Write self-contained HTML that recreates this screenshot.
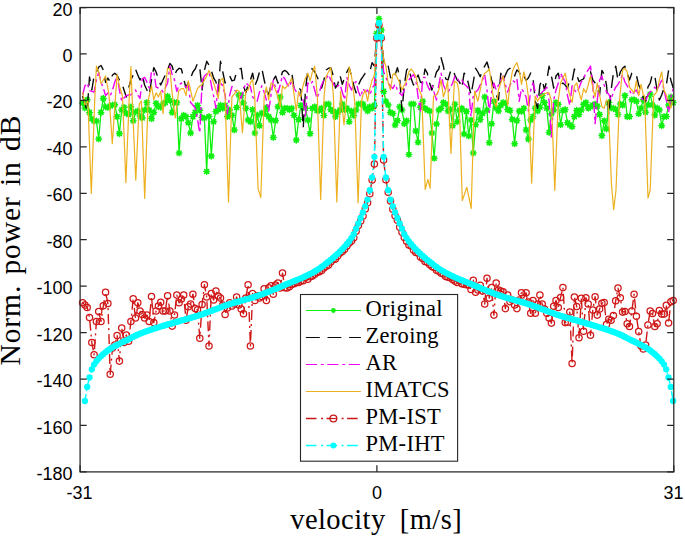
<!DOCTYPE html>
<html><head><meta charset="utf-8"><style>
html,body{margin:0;padding:0;background:#fff;width:685px;height:536px;overflow:hidden}
svg{display:block}
</style></head><body>
<svg width="685" height="536" viewBox="0 0 685 536"><rect x="0" y="0" width="685" height="536" fill="#fff"/><g fill="none" stroke-linejoin="round"><polyline points="82.6,103.3 84.9,108.0 87.2,99.8 89.5,112.4 91.8,118.7 94.1,121.0 96.4,121.0 98.7,139.0 101.0,112.4 103.3,98.4 105.6,107.0 107.9,107.5 110.2,106.0 112.5,105.0 114.8,104.7 117.1,116.6 119.4,133.6 121.7,110.0 124.0,107.3 126.3,113.1 128.6,114.5 130.9,106.8 133.2,120.8 135.5,112.0 137.8,111.0 140.0,116.0 142.3,118.0 144.6,110.0 146.9,102.6 149.2,110.0 151.5,118.6 153.8,112.4 156.1,103.2 158.4,106.8 160.7,107.3 163.0,104.0 165.3,102.6 167.6,96.3 169.9,100.5 172.2,112.4 174.5,102.6 176.8,102.6 179.1,153.0 181.4,118.6 183.7,115.2 186.0,116.6 188.3,122.7 190.6,133.0 192.9,116.6 195.2,112.4 197.5,105.4 199.8,110.3 202.1,117.6 204.4,118.0 206.7,171.5 209.0,116.5 211.3,156.1 213.6,121.7 215.9,111.4 218.2,109.6 220.5,105.4 222.8,108.2 225.1,105.4 227.4,116.6 229.7,110.0 232.0,115.2 234.3,129.9 236.6,107.5 238.9,94.9 241.2,95.6 243.5,103.0 245.8,108.2 248.1,120.0 250.4,121.7 252.6,109.6 254.9,133.0 257.2,115.0 259.5,125.8 261.8,113.1 264.1,113.5 266.4,107.5 268.7,116.6 271.0,120.0 273.3,137.5 275.6,120.6 277.9,106.8 280.2,97.0 282.5,112.4 284.8,108.2 287.1,108.3 289.4,109.6 291.7,108.2 294.0,115.2 296.3,140.1 298.6,119.6 300.9,105.4 303.2,107.3 305.5,108.2 307.8,120.0 310.1,133.6 312.4,108.2 314.7,106.8 317.0,110.4 319.3,110.4 321.6,108.2 323.9,115.5 326.2,104.2 328.5,104.0 330.8,109.6 333.1,111.4 335.4,116.6 337.7,112.4 340.0,110.0 342.3,104.0 344.6,109.6 346.9,108.3 349.2,121.7 351.5,111.0 353.8,115.5 356.1,110.0 358.4,104.0 360.7,104.0 363.0,104.0 365.3,108.0 367.6,111.0 369.8,106.8 372.1,108.3 374.4,105.4 376.7,33.5 379.0,18.8 381.3,30.1 383.6,91.4 385.9,101.2 388.2,105.0 390.5,112.4 392.8,113.5 395.1,125.0 397.4,120.6 399.7,106.8 402.0,110.0 404.3,123.7 406.6,120.8 408.9,154.5 411.2,104.0 413.5,104.0 415.8,130.9 418.1,142.2 420.4,107.3 422.7,101.2 425.0,108.2 427.3,110.0 429.6,111.0 431.9,133.0 434.2,158.2 436.5,124.0 438.8,110.0 441.1,108.2 443.4,102.6 445.7,104.0 448.0,111.0 450.3,109.4 452.6,125.8 454.9,104.2 457.2,121.7 459.5,110.0 461.8,108.2 464.1,134.0 466.4,111.4 468.7,136.0 471.0,120.0 473.3,153.0 475.6,124.7 477.9,110.4 480.2,119.6 482.5,113.5 484.7,97.0 487.0,110.0 489.3,142.8 491.6,123.7 493.9,101.2 496.2,108.0 498.5,111.0 500.8,105.4 503.1,102.6 505.4,103.2 507.7,109.6 510.0,110.4 512.3,119.4 514.6,143.8 516.9,120.6 519.2,111.0 521.5,111.4 523.8,108.3 526.1,129.9 528.4,139.1 530.7,120.0 533.0,116.5 535.3,108.2 537.6,111.0 539.9,107.3 542.2,95.6 544.5,102.6 546.8,108.3 549.1,132.4 551.4,113.8 553.7,110.0 556.0,102.6 558.3,104.2 560.6,124.8 562.9,110.4 565.2,109.6 567.5,122.7 569.8,125.0 572.1,126.8 574.4,116.6 576.7,110.4 579.0,114.5 581.3,110.0 583.6,104.2 585.9,102.6 588.2,108.3 590.5,106.8 592.8,105.0 595.1,104.0 597.3,106.3 599.6,114.5 601.9,135.6 604.2,120.8 606.5,128.9 608.8,102.6 611.1,108.0 613.4,108.2 615.7,109.4 618.0,114.5 620.3,104.0 622.6,105.3 624.9,95.6 627.2,116.6 629.5,116.6 631.8,99.8 634.1,99.8 636.4,101.2 638.7,113.8 641.0,108.2 643.3,99.8 645.6,112.3 647.9,105.0 650.2,94.2 652.5,105.0 654.8,115.1 657.1,108.1 659.4,110.0 661.7,125.8 664.0,116.6 666.3,116.5 668.6,105.0 670.9,97.0 673.2,102.6" stroke="#10f010" stroke-width="1.3"/><path d="M79.8,103.3h5.6M82.6,100.5v5.6M80.6,101.3l4,4M80.6,105.3l4,-4M82.1,108.0h5.6M84.9,105.2v5.6M82.9,106.0l4,4M82.9,110.0l4,-4M84.4,99.8h5.6M87.2,97.0v5.6M85.2,97.8l4,4M85.2,101.8l4,-4M86.7,112.4h5.6M89.5,109.6v5.6M87.5,110.4l4,4M87.5,114.4l4,-4M89.0,118.7h5.6M91.8,115.9v5.6M89.8,116.7l4,4M89.8,120.7l4,-4M91.3,121.0h5.6M94.1,118.2v5.6M92.1,119.0l4,4M92.1,123.0l4,-4M93.6,121.0h5.6M96.4,118.2v5.6M94.4,119.0l4,4M94.4,123.0l4,-4M95.9,139.0h5.6M98.7,136.2v5.6M96.7,137.0l4,4M96.7,141.0l4,-4M98.2,112.4h5.6M101.0,109.6v5.6M99.0,110.4l4,4M99.0,114.4l4,-4M100.5,98.4h5.6M103.3,95.6v5.6M101.3,96.4l4,4M101.3,100.4l4,-4M102.8,107.0h5.6M105.6,104.2v5.6M103.6,105.0l4,4M103.6,109.0l4,-4M105.1,107.5h5.6M107.9,104.7v5.6M105.9,105.5l4,4M105.9,109.5l4,-4M107.4,106.0h5.6M110.2,103.2v5.6M108.2,104.0l4,4M108.2,108.0l4,-4M109.7,105.0h5.6M112.5,102.2v5.6M110.5,103.0l4,4M110.5,107.0l4,-4M112.0,104.7h5.6M114.8,101.9v5.6M112.8,102.7l4,4M112.8,106.7l4,-4M114.3,116.6h5.6M117.1,113.8v5.6M115.1,114.6l4,4M115.1,118.6l4,-4M116.6,133.6h5.6M119.4,130.8v5.6M117.4,131.6l4,4M117.4,135.6l4,-4M118.9,110.0h5.6M121.7,107.2v5.6M119.7,108.0l4,4M119.7,112.0l4,-4M121.2,107.3h5.6M124.0,104.5v5.6M122.0,105.3l4,4M122.0,109.3l4,-4M123.5,113.1h5.6M126.3,110.3v5.6M124.3,111.1l4,4M124.3,115.1l4,-4M125.8,114.5h5.6M128.6,111.7v5.6M126.6,112.5l4,4M126.6,116.5l4,-4M128.1,106.8h5.6M130.9,104.0v5.6M128.9,104.8l4,4M128.9,108.8l4,-4M130.4,120.8h5.6M133.2,118.0v5.6M131.2,118.8l4,4M131.2,122.8l4,-4M132.7,112.0h5.6M135.5,109.2v5.6M133.5,110.0l4,4M133.5,114.0l4,-4M134.9,111.0h5.6M137.8,108.2v5.6M135.8,109.0l4,4M135.8,113.0l4,-4M137.2,116.0h5.6M140.0,113.2v5.6M138.0,114.0l4,4M138.0,118.0l4,-4M139.5,118.0h5.6M142.3,115.2v5.6M140.3,116.0l4,4M140.3,120.0l4,-4M141.8,110.0h5.6M144.6,107.2v5.6M142.6,108.0l4,4M142.6,112.0l4,-4M144.1,102.6h5.6M146.9,99.8v5.6M144.9,100.6l4,4M144.9,104.6l4,-4M146.4,110.0h5.6M149.2,107.2v5.6M147.2,108.0l4,4M147.2,112.0l4,-4M148.7,118.6h5.6M151.5,115.8v5.6M149.5,116.6l4,4M149.5,120.6l4,-4M151.0,112.4h5.6M153.8,109.6v5.6M151.8,110.4l4,4M151.8,114.4l4,-4M153.3,103.2h5.6M156.1,100.4v5.6M154.1,101.2l4,4M154.1,105.2l4,-4M155.6,106.8h5.6M158.4,104.0v5.6M156.4,104.8l4,4M156.4,108.8l4,-4M157.9,107.3h5.6M160.7,104.5v5.6M158.7,105.3l4,4M158.7,109.3l4,-4M160.2,104.0h5.6M163.0,101.2v5.6M161.0,102.0l4,4M161.0,106.0l4,-4M162.5,102.6h5.6M165.3,99.8v5.6M163.3,100.6l4,4M163.3,104.6l4,-4M164.8,96.3h5.6M167.6,93.5v5.6M165.6,94.3l4,4M165.6,98.3l4,-4M167.1,100.5h5.6M169.9,97.7v5.6M167.9,98.5l4,4M167.9,102.5l4,-4M169.4,112.4h5.6M172.2,109.6v5.6M170.2,110.4l4,4M170.2,114.4l4,-4M171.7,102.6h5.6M174.5,99.8v5.6M172.5,100.6l4,4M172.5,104.6l4,-4M174.0,102.6h5.6M176.8,99.8v5.6M174.8,100.6l4,4M174.8,104.6l4,-4M176.3,153.0h5.6M179.1,150.2v5.6M177.1,151.0l4,4M177.1,155.0l4,-4M178.6,118.6h5.6M181.4,115.8v5.6M179.4,116.6l4,4M179.4,120.6l4,-4M180.9,115.2h5.6M183.7,112.4v5.6M181.7,113.2l4,4M181.7,117.2l4,-4M183.2,116.6h5.6M186.0,113.8v5.6M184.0,114.6l4,4M184.0,118.6l4,-4M185.5,122.7h5.6M188.3,119.9v5.6M186.3,120.7l4,4M186.3,124.7l4,-4M187.8,133.0h5.6M190.6,130.2v5.6M188.6,131.0l4,4M188.6,135.0l4,-4M190.1,116.6h5.6M192.9,113.8v5.6M190.9,114.6l4,4M190.9,118.6l4,-4M192.4,112.4h5.6M195.2,109.6v5.6M193.2,110.4l4,4M193.2,114.4l4,-4M194.7,105.4h5.6M197.5,102.6v5.6M195.5,103.4l4,4M195.5,107.4l4,-4M197.0,110.3h5.6M199.8,107.5v5.6M197.8,108.3l4,4M197.8,112.3l4,-4M199.3,117.6h5.6M202.1,114.8v5.6M200.1,115.6l4,4M200.1,119.6l4,-4M201.6,118.0h5.6M204.4,115.2v5.6M202.4,116.0l4,4M202.4,120.0l4,-4M203.9,171.5h5.6M206.7,168.7v5.6M204.7,169.5l4,4M204.7,173.5l4,-4M206.2,116.5h5.6M209.0,113.7v5.6M207.0,114.5l4,4M207.0,118.5l4,-4M208.5,156.1h5.6M211.3,153.3v5.6M209.3,154.1l4,4M209.3,158.1l4,-4M210.8,121.7h5.6M213.6,118.9v5.6M211.6,119.7l4,4M211.6,123.7l4,-4M213.1,111.4h5.6M215.9,108.6v5.6M213.9,109.4l4,4M213.9,113.4l4,-4M215.4,109.6h5.6M218.2,106.8v5.6M216.2,107.6l4,4M216.2,111.6l4,-4M217.7,105.4h5.6M220.5,102.6v5.6M218.5,103.4l4,4M218.5,107.4l4,-4M220.0,108.2h5.6M222.8,105.4v5.6M220.8,106.2l4,4M220.8,110.2l4,-4M222.3,105.4h5.6M225.1,102.6v5.6M223.1,103.4l4,4M223.1,107.4l4,-4M224.6,116.6h5.6M227.4,113.8v5.6M225.4,114.6l4,4M225.4,118.6l4,-4M226.9,110.0h5.6M229.7,107.2v5.6M227.7,108.0l4,4M227.7,112.0l4,-4M229.2,115.2h5.6M232.0,112.4v5.6M230.0,113.2l4,4M230.0,117.2l4,-4M231.5,129.9h5.6M234.3,127.1v5.6M232.3,127.9l4,4M232.3,131.9l4,-4M233.8,107.5h5.6M236.6,104.7v5.6M234.6,105.5l4,4M234.6,109.5l4,-4M236.1,94.9h5.6M238.9,92.1v5.6M236.9,92.9l4,4M236.9,96.9l4,-4M238.4,95.6h5.6M241.2,92.8v5.6M239.2,93.6l4,4M239.2,97.6l4,-4M240.7,103.0h5.6M243.5,100.2v5.6M241.5,101.0l4,4M241.5,105.0l4,-4M243.0,108.2h5.6M245.8,105.4v5.6M243.8,106.2l4,4M243.8,110.2l4,-4M245.3,120.0h5.6M248.1,117.2v5.6M246.1,118.0l4,4M246.1,122.0l4,-4M247.6,121.7h5.6M250.4,118.9v5.6M248.4,119.7l4,4M248.4,123.7l4,-4M249.8,109.6h5.6M252.6,106.8v5.6M250.6,107.6l4,4M250.6,111.6l4,-4M252.1,133.0h5.6M254.9,130.2v5.6M252.9,131.0l4,4M252.9,135.0l4,-4M254.4,115.0h5.6M257.2,112.2v5.6M255.2,113.0l4,4M255.2,117.0l4,-4M256.7,125.8h5.6M259.5,123.0v5.6M257.5,123.8l4,4M257.5,127.8l4,-4M259.0,113.1h5.6M261.8,110.3v5.6M259.8,111.1l4,4M259.8,115.1l4,-4M261.3,113.5h5.6M264.1,110.7v5.6M262.1,111.5l4,4M262.1,115.5l4,-4M263.6,107.5h5.6M266.4,104.7v5.6M264.4,105.5l4,4M264.4,109.5l4,-4M265.9,116.6h5.6M268.7,113.8v5.6M266.7,114.6l4,4M266.7,118.6l4,-4M268.2,120.0h5.6M271.0,117.2v5.6M269.0,118.0l4,4M269.0,122.0l4,-4M270.5,137.5h5.6M273.3,134.7v5.6M271.3,135.5l4,4M271.3,139.5l4,-4M272.8,120.6h5.6M275.6,117.8v5.6M273.6,118.6l4,4M273.6,122.6l4,-4M275.1,106.8h5.6M277.9,104.0v5.6M275.9,104.8l4,4M275.9,108.8l4,-4M277.4,97.0h5.6M280.2,94.2v5.6M278.2,95.0l4,4M278.2,99.0l4,-4M279.7,112.4h5.6M282.5,109.6v5.6M280.5,110.4l4,4M280.5,114.4l4,-4M282.0,108.2h5.6M284.8,105.4v5.6M282.8,106.2l4,4M282.8,110.2l4,-4M284.3,108.3h5.6M287.1,105.5v5.6M285.1,106.3l4,4M285.1,110.3l4,-4M286.6,109.6h5.6M289.4,106.8v5.6M287.4,107.6l4,4M287.4,111.6l4,-4M288.9,108.2h5.6M291.7,105.4v5.6M289.7,106.2l4,4M289.7,110.2l4,-4M291.2,115.2h5.6M294.0,112.4v5.6M292.0,113.2l4,4M292.0,117.2l4,-4M293.5,140.1h5.6M296.3,137.3v5.6M294.3,138.1l4,4M294.3,142.1l4,-4M295.8,119.6h5.6M298.6,116.8v5.6M296.6,117.6l4,4M296.6,121.6l4,-4M298.1,105.4h5.6M300.9,102.6v5.6M298.9,103.4l4,4M298.9,107.4l4,-4M300.4,107.3h5.6M303.2,104.5v5.6M301.2,105.3l4,4M301.2,109.3l4,-4M302.7,108.2h5.6M305.5,105.4v5.6M303.5,106.2l4,4M303.5,110.2l4,-4M305.0,120.0h5.6M307.8,117.2v5.6M305.8,118.0l4,4M305.8,122.0l4,-4M307.3,133.6h5.6M310.1,130.8v5.6M308.1,131.6l4,4M308.1,135.6l4,-4M309.6,108.2h5.6M312.4,105.4v5.6M310.4,106.2l4,4M310.4,110.2l4,-4M311.9,106.8h5.6M314.7,104.0v5.6M312.7,104.8l4,4M312.7,108.8l4,-4M314.2,110.4h5.6M317.0,107.6v5.6M315.0,108.4l4,4M315.0,112.4l4,-4M316.5,110.4h5.6M319.3,107.6v5.6M317.3,108.4l4,4M317.3,112.4l4,-4M318.8,108.2h5.6M321.6,105.4v5.6M319.6,106.2l4,4M319.6,110.2l4,-4M321.1,115.5h5.6M323.9,112.7v5.6M321.9,113.5l4,4M321.9,117.5l4,-4M323.4,104.2h5.6M326.2,101.4v5.6M324.2,102.2l4,4M324.2,106.2l4,-4M325.7,104.0h5.6M328.5,101.2v5.6M326.5,102.0l4,4M326.5,106.0l4,-4M328.0,109.6h5.6M330.8,106.8v5.6M328.8,107.6l4,4M328.8,111.6l4,-4M330.3,111.4h5.6M333.1,108.6v5.6M331.1,109.4l4,4M331.1,113.4l4,-4M332.6,116.6h5.6M335.4,113.8v5.6M333.4,114.6l4,4M333.4,118.6l4,-4M334.9,112.4h5.6M337.7,109.6v5.6M335.7,110.4l4,4M335.7,114.4l4,-4M337.2,110.0h5.6M340.0,107.2v5.6M338.0,108.0l4,4M338.0,112.0l4,-4M339.5,104.0h5.6M342.3,101.2v5.6M340.3,102.0l4,4M340.3,106.0l4,-4M341.8,109.6h5.6M344.6,106.8v5.6M342.6,107.6l4,4M342.6,111.6l4,-4M344.1,108.3h5.6M346.9,105.5v5.6M344.9,106.3l4,4M344.9,110.3l4,-4M346.4,121.7h5.6M349.2,118.9v5.6M347.2,119.7l4,4M347.2,123.7l4,-4M348.7,111.0h5.6M351.5,108.2v5.6M349.5,109.0l4,4M349.5,113.0l4,-4M351.0,115.5h5.6M353.8,112.7v5.6M351.8,113.5l4,4M351.8,117.5l4,-4M353.3,110.0h5.6M356.1,107.2v5.6M354.1,108.0l4,4M354.1,112.0l4,-4M355.6,104.0h5.6M358.4,101.2v5.6M356.4,102.0l4,4M356.4,106.0l4,-4M357.9,104.0h5.6M360.7,101.2v5.6M358.7,102.0l4,4M358.7,106.0l4,-4M360.2,104.0h5.6M363.0,101.2v5.6M361.0,102.0l4,4M361.0,106.0l4,-4M362.5,108.0h5.6M365.3,105.2v5.6M363.3,106.0l4,4M363.3,110.0l4,-4M364.8,111.0h5.6M367.6,108.2v5.6M365.6,109.0l4,4M365.6,113.0l4,-4M367.0,106.8h5.6M369.8,104.0v5.6M367.8,104.8l4,4M367.8,108.8l4,-4M369.3,108.3h5.6M372.1,105.5v5.6M370.1,106.3l4,4M370.1,110.3l4,-4M371.6,105.4h5.6M374.4,102.6v5.6M372.4,103.4l4,4M372.4,107.4l4,-4M373.9,33.5h5.6M376.7,30.7v5.6M374.7,31.5l4,4M374.7,35.5l4,-4M376.2,18.8h5.6M379.0,16.0v5.6M377.0,16.8l4,4M377.0,20.8l4,-4M378.5,30.1h5.6M381.3,27.3v5.6M379.3,28.1l4,4M379.3,32.1l4,-4M380.8,91.4h5.6M383.6,88.6v5.6M381.6,89.4l4,4M381.6,93.4l4,-4M383.1,101.2h5.6M385.9,98.4v5.6M383.9,99.2l4,4M383.9,103.2l4,-4M385.4,105.0h5.6M388.2,102.2v5.6M386.2,103.0l4,4M386.2,107.0l4,-4M387.7,112.4h5.6M390.5,109.6v5.6M388.5,110.4l4,4M388.5,114.4l4,-4M390.0,113.5h5.6M392.8,110.7v5.6M390.8,111.5l4,4M390.8,115.5l4,-4M392.3,125.0h5.6M395.1,122.2v5.6M393.1,123.0l4,4M393.1,127.0l4,-4M394.6,120.6h5.6M397.4,117.8v5.6M395.4,118.6l4,4M395.4,122.6l4,-4M396.9,106.8h5.6M399.7,104.0v5.6M397.7,104.8l4,4M397.7,108.8l4,-4M399.2,110.0h5.6M402.0,107.2v5.6M400.0,108.0l4,4M400.0,112.0l4,-4M401.5,123.7h5.6M404.3,120.9v5.6M402.3,121.7l4,4M402.3,125.7l4,-4M403.8,120.8h5.6M406.6,118.0v5.6M404.6,118.8l4,4M404.6,122.8l4,-4M406.1,154.5h5.6M408.9,151.7v5.6M406.9,152.5l4,4M406.9,156.5l4,-4M408.4,104.0h5.6M411.2,101.2v5.6M409.2,102.0l4,4M409.2,106.0l4,-4M410.7,104.0h5.6M413.5,101.2v5.6M411.5,102.0l4,4M411.5,106.0l4,-4M413.0,130.9h5.6M415.8,128.1v5.6M413.8,128.9l4,4M413.8,132.9l4,-4M415.3,142.2h5.6M418.1,139.4v5.6M416.1,140.2l4,4M416.1,144.2l4,-4M417.6,107.3h5.6M420.4,104.5v5.6M418.4,105.3l4,4M418.4,109.3l4,-4M419.9,101.2h5.6M422.7,98.4v5.6M420.7,99.2l4,4M420.7,103.2l4,-4M422.2,108.2h5.6M425.0,105.4v5.6M423.0,106.2l4,4M423.0,110.2l4,-4M424.5,110.0h5.6M427.3,107.2v5.6M425.3,108.0l4,4M425.3,112.0l4,-4M426.8,111.0h5.6M429.6,108.2v5.6M427.6,109.0l4,4M427.6,113.0l4,-4M429.1,133.0h5.6M431.9,130.2v5.6M429.9,131.0l4,4M429.9,135.0l4,-4M431.4,158.2h5.6M434.2,155.4v5.6M432.2,156.2l4,4M432.2,160.2l4,-4M433.7,124.0h5.6M436.5,121.2v5.6M434.5,122.0l4,4M434.5,126.0l4,-4M436.0,110.0h5.6M438.8,107.2v5.6M436.8,108.0l4,4M436.8,112.0l4,-4M438.3,108.2h5.6M441.1,105.4v5.6M439.1,106.2l4,4M439.1,110.2l4,-4M440.6,102.6h5.6M443.4,99.8v5.6M441.4,100.6l4,4M441.4,104.6l4,-4M442.9,104.0h5.6M445.7,101.2v5.6M443.7,102.0l4,4M443.7,106.0l4,-4M445.2,111.0h5.6M448.0,108.2v5.6M446.0,109.0l4,4M446.0,113.0l4,-4M447.5,109.4h5.6M450.3,106.6v5.6M448.3,107.4l4,4M448.3,111.4l4,-4M449.8,125.8h5.6M452.6,123.0v5.6M450.6,123.8l4,4M450.6,127.8l4,-4M452.1,104.2h5.6M454.9,101.4v5.6M452.9,102.2l4,4M452.9,106.2l4,-4M454.4,121.7h5.6M457.2,118.9v5.6M455.2,119.7l4,4M455.2,123.7l4,-4M456.7,110.0h5.6M459.5,107.2v5.6M457.5,108.0l4,4M457.5,112.0l4,-4M459.0,108.2h5.6M461.8,105.4v5.6M459.8,106.2l4,4M459.8,110.2l4,-4M461.3,134.0h5.6M464.1,131.2v5.6M462.1,132.0l4,4M462.1,136.0l4,-4M463.6,111.4h5.6M466.4,108.6v5.6M464.4,109.4l4,4M464.4,113.4l4,-4M465.9,136.0h5.6M468.7,133.2v5.6M466.7,134.0l4,4M466.7,138.0l4,-4M468.2,120.0h5.6M471.0,117.2v5.6M469.0,118.0l4,4M469.0,122.0l4,-4M470.5,153.0h5.6M473.3,150.2v5.6M471.3,151.0l4,4M471.3,155.0l4,-4M472.8,124.7h5.6M475.6,121.9v5.6M473.6,122.7l4,4M473.6,126.7l4,-4M475.1,110.4h5.6M477.9,107.6v5.6M475.9,108.4l4,4M475.9,112.4l4,-4M477.4,119.6h5.6M480.2,116.8v5.6M478.2,117.6l4,4M478.2,121.6l4,-4M479.7,113.5h5.6M482.5,110.7v5.6M480.5,111.5l4,4M480.5,115.5l4,-4M481.9,97.0h5.6M484.7,94.2v5.6M482.7,95.0l4,4M482.7,99.0l4,-4M484.2,110.0h5.6M487.0,107.2v5.6M485.0,108.0l4,4M485.0,112.0l4,-4M486.5,142.8h5.6M489.3,140.0v5.6M487.3,140.8l4,4M487.3,144.8l4,-4M488.8,123.7h5.6M491.6,120.9v5.6M489.6,121.7l4,4M489.6,125.7l4,-4M491.1,101.2h5.6M493.9,98.4v5.6M491.9,99.2l4,4M491.9,103.2l4,-4M493.4,108.0h5.6M496.2,105.2v5.6M494.2,106.0l4,4M494.2,110.0l4,-4M495.7,111.0h5.6M498.5,108.2v5.6M496.5,109.0l4,4M496.5,113.0l4,-4M498.0,105.4h5.6M500.8,102.6v5.6M498.8,103.4l4,4M498.8,107.4l4,-4M500.3,102.6h5.6M503.1,99.8v5.6M501.1,100.6l4,4M501.1,104.6l4,-4M502.6,103.2h5.6M505.4,100.4v5.6M503.4,101.2l4,4M503.4,105.2l4,-4M504.9,109.6h5.6M507.7,106.8v5.6M505.7,107.6l4,4M505.7,111.6l4,-4M507.2,110.4h5.6M510.0,107.6v5.6M508.0,108.4l4,4M508.0,112.4l4,-4M509.5,119.4h5.6M512.3,116.6v5.6M510.3,117.4l4,4M510.3,121.4l4,-4M511.8,143.8h5.6M514.6,141.0v5.6M512.6,141.8l4,4M512.6,145.8l4,-4M514.1,120.6h5.6M516.9,117.8v5.6M514.9,118.6l4,4M514.9,122.6l4,-4M516.4,111.0h5.6M519.2,108.2v5.6M517.2,109.0l4,4M517.2,113.0l4,-4M518.7,111.4h5.6M521.5,108.6v5.6M519.5,109.4l4,4M519.5,113.4l4,-4M521.0,108.3h5.6M523.8,105.5v5.6M521.8,106.3l4,4M521.8,110.3l4,-4M523.3,129.9h5.6M526.1,127.1v5.6M524.1,127.9l4,4M524.1,131.9l4,-4M525.6,139.1h5.6M528.4,136.3v5.6M526.4,137.1l4,4M526.4,141.1l4,-4M527.9,120.0h5.6M530.7,117.2v5.6M528.7,118.0l4,4M528.7,122.0l4,-4M530.2,116.5h5.6M533.0,113.7v5.6M531.0,114.5l4,4M531.0,118.5l4,-4M532.5,108.2h5.6M535.3,105.4v5.6M533.3,106.2l4,4M533.3,110.2l4,-4M534.8,111.0h5.6M537.6,108.2v5.6M535.6,109.0l4,4M535.6,113.0l4,-4M537.1,107.3h5.6M539.9,104.5v5.6M537.9,105.3l4,4M537.9,109.3l4,-4M539.4,95.6h5.6M542.2,92.8v5.6M540.2,93.6l4,4M540.2,97.6l4,-4M541.7,102.6h5.6M544.5,99.8v5.6M542.5,100.6l4,4M542.5,104.6l4,-4M544.0,108.3h5.6M546.8,105.5v5.6M544.8,106.3l4,4M544.8,110.3l4,-4M546.3,132.4h5.6M549.1,129.6v5.6M547.1,130.4l4,4M547.1,134.4l4,-4M548.6,113.8h5.6M551.4,111.0v5.6M549.4,111.8l4,4M549.4,115.8l4,-4M550.9,110.0h5.6M553.7,107.2v5.6M551.7,108.0l4,4M551.7,112.0l4,-4M553.2,102.6h5.6M556.0,99.8v5.6M554.0,100.6l4,4M554.0,104.6l4,-4M555.5,104.2h5.6M558.3,101.4v5.6M556.3,102.2l4,4M556.3,106.2l4,-4M557.8,124.8h5.6M560.6,122.0v5.6M558.6,122.8l4,4M558.6,126.8l4,-4M560.1,110.4h5.6M562.9,107.6v5.6M560.9,108.4l4,4M560.9,112.4l4,-4M562.4,109.6h5.6M565.2,106.8v5.6M563.2,107.6l4,4M563.2,111.6l4,-4M564.7,122.7h5.6M567.5,119.9v5.6M565.5,120.7l4,4M565.5,124.7l4,-4M567.0,125.0h5.6M569.8,122.2v5.6M567.8,123.0l4,4M567.8,127.0l4,-4M569.3,126.8h5.6M572.1,124.0v5.6M570.1,124.8l4,4M570.1,128.8l4,-4M571.6,116.6h5.6M574.4,113.8v5.6M572.4,114.6l4,4M572.4,118.6l4,-4M573.9,110.4h5.6M576.7,107.6v5.6M574.7,108.4l4,4M574.7,112.4l4,-4M576.2,114.5h5.6M579.0,111.7v5.6M577.0,112.5l4,4M577.0,116.5l4,-4M578.5,110.0h5.6M581.3,107.2v5.6M579.3,108.0l4,4M579.3,112.0l4,-4M580.8,104.2h5.6M583.6,101.4v5.6M581.6,102.2l4,4M581.6,106.2l4,-4M583.1,102.6h5.6M585.9,99.8v5.6M583.9,100.6l4,4M583.9,104.6l4,-4M585.4,108.3h5.6M588.2,105.5v5.6M586.2,106.3l4,4M586.2,110.3l4,-4M587.7,106.8h5.6M590.5,104.0v5.6M588.5,104.8l4,4M588.5,108.8l4,-4M590.0,105.0h5.6M592.8,102.2v5.6M590.8,103.0l4,4M590.8,107.0l4,-4M592.3,104.0h5.6M595.1,101.2v5.6M593.1,102.0l4,4M593.1,106.0l4,-4M594.5,106.3h5.6M597.3,103.5v5.6M595.3,104.3l4,4M595.3,108.3l4,-4M596.8,114.5h5.6M599.6,111.7v5.6M597.6,112.5l4,4M597.6,116.5l4,-4M599.1,135.6h5.6M601.9,132.8v5.6M599.9,133.6l4,4M599.9,137.6l4,-4M601.4,120.8h5.6M604.2,118.0v5.6M602.2,118.8l4,4M602.2,122.8l4,-4M603.7,128.9h5.6M606.5,126.1v5.6M604.5,126.9l4,4M604.5,130.9l4,-4M606.0,102.6h5.6M608.8,99.8v5.6M606.8,100.6l4,4M606.8,104.6l4,-4M608.3,108.0h5.6M611.1,105.2v5.6M609.1,106.0l4,4M609.1,110.0l4,-4M610.6,108.2h5.6M613.4,105.4v5.6M611.4,106.2l4,4M611.4,110.2l4,-4M612.9,109.4h5.6M615.7,106.6v5.6M613.7,107.4l4,4M613.7,111.4l4,-4M615.2,114.5h5.6M618.0,111.7v5.6M616.0,112.5l4,4M616.0,116.5l4,-4M617.5,104.0h5.6M620.3,101.2v5.6M618.3,102.0l4,4M618.3,106.0l4,-4M619.8,105.3h5.6M622.6,102.5v5.6M620.6,103.3l4,4M620.6,107.3l4,-4M622.1,95.6h5.6M624.9,92.8v5.6M622.9,93.6l4,4M622.9,97.6l4,-4M624.4,116.6h5.6M627.2,113.8v5.6M625.2,114.6l4,4M625.2,118.6l4,-4M626.7,116.6h5.6M629.5,113.8v5.6M627.5,114.6l4,4M627.5,118.6l4,-4M629.0,99.8h5.6M631.8,97.0v5.6M629.8,97.8l4,4M629.8,101.8l4,-4M631.3,99.8h5.6M634.1,97.0v5.6M632.1,97.8l4,4M632.1,101.8l4,-4M633.6,101.2h5.6M636.4,98.4v5.6M634.4,99.2l4,4M634.4,103.2l4,-4M635.9,113.8h5.6M638.7,111.0v5.6M636.7,111.8l4,4M636.7,115.8l4,-4M638.2,108.2h5.6M641.0,105.4v5.6M639.0,106.2l4,4M639.0,110.2l4,-4M640.5,99.8h5.6M643.3,97.0v5.6M641.3,97.8l4,4M641.3,101.8l4,-4M642.8,112.3h5.6M645.6,109.5v5.6M643.6,110.3l4,4M643.6,114.3l4,-4M645.1,105.0h5.6M647.9,102.2v5.6M645.9,103.0l4,4M645.9,107.0l4,-4M647.4,94.2h5.6M650.2,91.4v5.6M648.2,92.2l4,4M648.2,96.2l4,-4M649.7,105.0h5.6M652.5,102.2v5.6M650.5,103.0l4,4M650.5,107.0l4,-4M652.0,115.1h5.6M654.8,112.3v5.6M652.8,113.1l4,4M652.8,117.1l4,-4M654.3,108.1h5.6M657.1,105.3v5.6M655.1,106.1l4,4M655.1,110.1l4,-4M656.6,110.0h5.6M659.4,107.2v5.6M657.4,108.0l4,4M657.4,112.0l4,-4M658.9,125.8h5.6M661.7,123.0v5.6M659.7,123.8l4,4M659.7,127.8l4,-4M661.2,116.6h5.6M664.0,113.8v5.6M662.0,114.6l4,4M662.0,118.6l4,-4M663.5,116.5h5.6M666.3,113.7v5.6M664.3,114.5l4,4M664.3,118.5l4,-4M665.8,105.0h5.6M668.6,102.2v5.6M666.6,103.0l4,4M666.6,107.0l4,-4M668.1,97.0h5.6M670.9,94.2v5.6M668.9,95.0l4,4M668.9,99.0l4,-4M670.4,102.6h5.6M673.2,99.8v5.6M671.2,100.6l4,4M671.2,104.6l4,-4" stroke="#10f010" stroke-width="1.5" stroke-linecap="round"/><g fill="#10f010" stroke="none"><circle cx="82.6" cy="103.3" r="2.2"/><circle cx="84.9" cy="108.0" r="2.2"/><circle cx="87.2" cy="99.8" r="2.2"/><circle cx="89.5" cy="112.4" r="2.2"/><circle cx="91.8" cy="118.7" r="2.2"/><circle cx="94.1" cy="121.0" r="2.2"/><circle cx="96.4" cy="121.0" r="2.2"/><circle cx="98.7" cy="139.0" r="2.2"/><circle cx="101.0" cy="112.4" r="2.2"/><circle cx="103.3" cy="98.4" r="2.2"/><circle cx="105.6" cy="107.0" r="2.2"/><circle cx="107.9" cy="107.5" r="2.2"/><circle cx="110.2" cy="106.0" r="2.2"/><circle cx="112.5" cy="105.0" r="2.2"/><circle cx="114.8" cy="104.7" r="2.2"/><circle cx="117.1" cy="116.6" r="2.2"/><circle cx="119.4" cy="133.6" r="2.2"/><circle cx="121.7" cy="110.0" r="2.2"/><circle cx="124.0" cy="107.3" r="2.2"/><circle cx="126.3" cy="113.1" r="2.2"/><circle cx="128.6" cy="114.5" r="2.2"/><circle cx="130.9" cy="106.8" r="2.2"/><circle cx="133.2" cy="120.8" r="2.2"/><circle cx="135.5" cy="112.0" r="2.2"/><circle cx="137.8" cy="111.0" r="2.2"/><circle cx="140.0" cy="116.0" r="2.2"/><circle cx="142.3" cy="118.0" r="2.2"/><circle cx="144.6" cy="110.0" r="2.2"/><circle cx="146.9" cy="102.6" r="2.2"/><circle cx="149.2" cy="110.0" r="2.2"/><circle cx="151.5" cy="118.6" r="2.2"/><circle cx="153.8" cy="112.4" r="2.2"/><circle cx="156.1" cy="103.2" r="2.2"/><circle cx="158.4" cy="106.8" r="2.2"/><circle cx="160.7" cy="107.3" r="2.2"/><circle cx="163.0" cy="104.0" r="2.2"/><circle cx="165.3" cy="102.6" r="2.2"/><circle cx="167.6" cy="96.3" r="2.2"/><circle cx="169.9" cy="100.5" r="2.2"/><circle cx="172.2" cy="112.4" r="2.2"/><circle cx="174.5" cy="102.6" r="2.2"/><circle cx="176.8" cy="102.6" r="2.2"/><circle cx="179.1" cy="153.0" r="2.2"/><circle cx="181.4" cy="118.6" r="2.2"/><circle cx="183.7" cy="115.2" r="2.2"/><circle cx="186.0" cy="116.6" r="2.2"/><circle cx="188.3" cy="122.7" r="2.2"/><circle cx="190.6" cy="133.0" r="2.2"/><circle cx="192.9" cy="116.6" r="2.2"/><circle cx="195.2" cy="112.4" r="2.2"/><circle cx="197.5" cy="105.4" r="2.2"/><circle cx="199.8" cy="110.3" r="2.2"/><circle cx="202.1" cy="117.6" r="2.2"/><circle cx="204.4" cy="118.0" r="2.2"/><circle cx="206.7" cy="171.5" r="2.2"/><circle cx="209.0" cy="116.5" r="2.2"/><circle cx="211.3" cy="156.1" r="2.2"/><circle cx="213.6" cy="121.7" r="2.2"/><circle cx="215.9" cy="111.4" r="2.2"/><circle cx="218.2" cy="109.6" r="2.2"/><circle cx="220.5" cy="105.4" r="2.2"/><circle cx="222.8" cy="108.2" r="2.2"/><circle cx="225.1" cy="105.4" r="2.2"/><circle cx="227.4" cy="116.6" r="2.2"/><circle cx="229.7" cy="110.0" r="2.2"/><circle cx="232.0" cy="115.2" r="2.2"/><circle cx="234.3" cy="129.9" r="2.2"/><circle cx="236.6" cy="107.5" r="2.2"/><circle cx="238.9" cy="94.9" r="2.2"/><circle cx="241.2" cy="95.6" r="2.2"/><circle cx="243.5" cy="103.0" r="2.2"/><circle cx="245.8" cy="108.2" r="2.2"/><circle cx="248.1" cy="120.0" r="2.2"/><circle cx="250.4" cy="121.7" r="2.2"/><circle cx="252.6" cy="109.6" r="2.2"/><circle cx="254.9" cy="133.0" r="2.2"/><circle cx="257.2" cy="115.0" r="2.2"/><circle cx="259.5" cy="125.8" r="2.2"/><circle cx="261.8" cy="113.1" r="2.2"/><circle cx="264.1" cy="113.5" r="2.2"/><circle cx="266.4" cy="107.5" r="2.2"/><circle cx="268.7" cy="116.6" r="2.2"/><circle cx="271.0" cy="120.0" r="2.2"/><circle cx="273.3" cy="137.5" r="2.2"/><circle cx="275.6" cy="120.6" r="2.2"/><circle cx="277.9" cy="106.8" r="2.2"/><circle cx="280.2" cy="97.0" r="2.2"/><circle cx="282.5" cy="112.4" r="2.2"/><circle cx="284.8" cy="108.2" r="2.2"/><circle cx="287.1" cy="108.3" r="2.2"/><circle cx="289.4" cy="109.6" r="2.2"/><circle cx="291.7" cy="108.2" r="2.2"/><circle cx="294.0" cy="115.2" r="2.2"/><circle cx="296.3" cy="140.1" r="2.2"/><circle cx="298.6" cy="119.6" r="2.2"/><circle cx="300.9" cy="105.4" r="2.2"/><circle cx="303.2" cy="107.3" r="2.2"/><circle cx="305.5" cy="108.2" r="2.2"/><circle cx="307.8" cy="120.0" r="2.2"/><circle cx="310.1" cy="133.6" r="2.2"/><circle cx="312.4" cy="108.2" r="2.2"/><circle cx="314.7" cy="106.8" r="2.2"/><circle cx="317.0" cy="110.4" r="2.2"/><circle cx="319.3" cy="110.4" r="2.2"/><circle cx="321.6" cy="108.2" r="2.2"/><circle cx="323.9" cy="115.5" r="2.2"/><circle cx="326.2" cy="104.2" r="2.2"/><circle cx="328.5" cy="104.0" r="2.2"/><circle cx="330.8" cy="109.6" r="2.2"/><circle cx="333.1" cy="111.4" r="2.2"/><circle cx="335.4" cy="116.6" r="2.2"/><circle cx="337.7" cy="112.4" r="2.2"/><circle cx="340.0" cy="110.0" r="2.2"/><circle cx="342.3" cy="104.0" r="2.2"/><circle cx="344.6" cy="109.6" r="2.2"/><circle cx="346.9" cy="108.3" r="2.2"/><circle cx="349.2" cy="121.7" r="2.2"/><circle cx="351.5" cy="111.0" r="2.2"/><circle cx="353.8" cy="115.5" r="2.2"/><circle cx="356.1" cy="110.0" r="2.2"/><circle cx="358.4" cy="104.0" r="2.2"/><circle cx="360.7" cy="104.0" r="2.2"/><circle cx="363.0" cy="104.0" r="2.2"/><circle cx="365.3" cy="108.0" r="2.2"/><circle cx="367.6" cy="111.0" r="2.2"/><circle cx="369.8" cy="106.8" r="2.2"/><circle cx="372.1" cy="108.3" r="2.2"/><circle cx="374.4" cy="105.4" r="2.2"/><circle cx="376.7" cy="33.5" r="2.2"/><circle cx="379.0" cy="18.8" r="2.2"/><circle cx="381.3" cy="30.1" r="2.2"/><circle cx="383.6" cy="91.4" r="2.2"/><circle cx="385.9" cy="101.2" r="2.2"/><circle cx="388.2" cy="105.0" r="2.2"/><circle cx="390.5" cy="112.4" r="2.2"/><circle cx="392.8" cy="113.5" r="2.2"/><circle cx="395.1" cy="125.0" r="2.2"/><circle cx="397.4" cy="120.6" r="2.2"/><circle cx="399.7" cy="106.8" r="2.2"/><circle cx="402.0" cy="110.0" r="2.2"/><circle cx="404.3" cy="123.7" r="2.2"/><circle cx="406.6" cy="120.8" r="2.2"/><circle cx="408.9" cy="154.5" r="2.2"/><circle cx="411.2" cy="104.0" r="2.2"/><circle cx="413.5" cy="104.0" r="2.2"/><circle cx="415.8" cy="130.9" r="2.2"/><circle cx="418.1" cy="142.2" r="2.2"/><circle cx="420.4" cy="107.3" r="2.2"/><circle cx="422.7" cy="101.2" r="2.2"/><circle cx="425.0" cy="108.2" r="2.2"/><circle cx="427.3" cy="110.0" r="2.2"/><circle cx="429.6" cy="111.0" r="2.2"/><circle cx="431.9" cy="133.0" r="2.2"/><circle cx="434.2" cy="158.2" r="2.2"/><circle cx="436.5" cy="124.0" r="2.2"/><circle cx="438.8" cy="110.0" r="2.2"/><circle cx="441.1" cy="108.2" r="2.2"/><circle cx="443.4" cy="102.6" r="2.2"/><circle cx="445.7" cy="104.0" r="2.2"/><circle cx="448.0" cy="111.0" r="2.2"/><circle cx="450.3" cy="109.4" r="2.2"/><circle cx="452.6" cy="125.8" r="2.2"/><circle cx="454.9" cy="104.2" r="2.2"/><circle cx="457.2" cy="121.7" r="2.2"/><circle cx="459.5" cy="110.0" r="2.2"/><circle cx="461.8" cy="108.2" r="2.2"/><circle cx="464.1" cy="134.0" r="2.2"/><circle cx="466.4" cy="111.4" r="2.2"/><circle cx="468.7" cy="136.0" r="2.2"/><circle cx="471.0" cy="120.0" r="2.2"/><circle cx="473.3" cy="153.0" r="2.2"/><circle cx="475.6" cy="124.7" r="2.2"/><circle cx="477.9" cy="110.4" r="2.2"/><circle cx="480.2" cy="119.6" r="2.2"/><circle cx="482.5" cy="113.5" r="2.2"/><circle cx="484.7" cy="97.0" r="2.2"/><circle cx="487.0" cy="110.0" r="2.2"/><circle cx="489.3" cy="142.8" r="2.2"/><circle cx="491.6" cy="123.7" r="2.2"/><circle cx="493.9" cy="101.2" r="2.2"/><circle cx="496.2" cy="108.0" r="2.2"/><circle cx="498.5" cy="111.0" r="2.2"/><circle cx="500.8" cy="105.4" r="2.2"/><circle cx="503.1" cy="102.6" r="2.2"/><circle cx="505.4" cy="103.2" r="2.2"/><circle cx="507.7" cy="109.6" r="2.2"/><circle cx="510.0" cy="110.4" r="2.2"/><circle cx="512.3" cy="119.4" r="2.2"/><circle cx="514.6" cy="143.8" r="2.2"/><circle cx="516.9" cy="120.6" r="2.2"/><circle cx="519.2" cy="111.0" r="2.2"/><circle cx="521.5" cy="111.4" r="2.2"/><circle cx="523.8" cy="108.3" r="2.2"/><circle cx="526.1" cy="129.9" r="2.2"/><circle cx="528.4" cy="139.1" r="2.2"/><circle cx="530.7" cy="120.0" r="2.2"/><circle cx="533.0" cy="116.5" r="2.2"/><circle cx="535.3" cy="108.2" r="2.2"/><circle cx="537.6" cy="111.0" r="2.2"/><circle cx="539.9" cy="107.3" r="2.2"/><circle cx="542.2" cy="95.6" r="2.2"/><circle cx="544.5" cy="102.6" r="2.2"/><circle cx="546.8" cy="108.3" r="2.2"/><circle cx="549.1" cy="132.4" r="2.2"/><circle cx="551.4" cy="113.8" r="2.2"/><circle cx="553.7" cy="110.0" r="2.2"/><circle cx="556.0" cy="102.6" r="2.2"/><circle cx="558.3" cy="104.2" r="2.2"/><circle cx="560.6" cy="124.8" r="2.2"/><circle cx="562.9" cy="110.4" r="2.2"/><circle cx="565.2" cy="109.6" r="2.2"/><circle cx="567.5" cy="122.7" r="2.2"/><circle cx="569.8" cy="125.0" r="2.2"/><circle cx="572.1" cy="126.8" r="2.2"/><circle cx="574.4" cy="116.6" r="2.2"/><circle cx="576.7" cy="110.4" r="2.2"/><circle cx="579.0" cy="114.5" r="2.2"/><circle cx="581.3" cy="110.0" r="2.2"/><circle cx="583.6" cy="104.2" r="2.2"/><circle cx="585.9" cy="102.6" r="2.2"/><circle cx="588.2" cy="108.3" r="2.2"/><circle cx="590.5" cy="106.8" r="2.2"/><circle cx="592.8" cy="105.0" r="2.2"/><circle cx="595.1" cy="104.0" r="2.2"/><circle cx="597.3" cy="106.3" r="2.2"/><circle cx="599.6" cy="114.5" r="2.2"/><circle cx="601.9" cy="135.6" r="2.2"/><circle cx="604.2" cy="120.8" r="2.2"/><circle cx="606.5" cy="128.9" r="2.2"/><circle cx="608.8" cy="102.6" r="2.2"/><circle cx="611.1" cy="108.0" r="2.2"/><circle cx="613.4" cy="108.2" r="2.2"/><circle cx="615.7" cy="109.4" r="2.2"/><circle cx="618.0" cy="114.5" r="2.2"/><circle cx="620.3" cy="104.0" r="2.2"/><circle cx="622.6" cy="105.3" r="2.2"/><circle cx="624.9" cy="95.6" r="2.2"/><circle cx="627.2" cy="116.6" r="2.2"/><circle cx="629.5" cy="116.6" r="2.2"/><circle cx="631.8" cy="99.8" r="2.2"/><circle cx="634.1" cy="99.8" r="2.2"/><circle cx="636.4" cy="101.2" r="2.2"/><circle cx="638.7" cy="113.8" r="2.2"/><circle cx="641.0" cy="108.2" r="2.2"/><circle cx="643.3" cy="99.8" r="2.2"/><circle cx="645.6" cy="112.3" r="2.2"/><circle cx="647.9" cy="105.0" r="2.2"/><circle cx="650.2" cy="94.2" r="2.2"/><circle cx="652.5" cy="105.0" r="2.2"/><circle cx="654.8" cy="115.1" r="2.2"/><circle cx="657.1" cy="108.1" r="2.2"/><circle cx="659.4" cy="110.0" r="2.2"/><circle cx="661.7" cy="125.8" r="2.2"/><circle cx="664.0" cy="116.6" r="2.2"/><circle cx="666.3" cy="116.5" r="2.2"/><circle cx="668.6" cy="105.0" r="2.2"/><circle cx="670.9" cy="97.0" r="2.2"/><circle cx="673.2" cy="102.6" r="2.2"/></g><polyline points="82.6,96.0 84.9,104.0 87.2,111.0 89.5,77.0 91.8,90.0 94.1,76.0 96.4,72.0 98.7,67.0 101.0,65.5 103.3,70.0 105.6,82.3 107.9,78.0 110.2,82.0 112.5,75.0 114.8,73.2 117.1,75.3 119.4,80.0 121.7,83.0 124.0,90.0 126.3,97.0 128.6,88.0 130.9,80.0 133.2,75.0 135.5,69.0 137.8,75.0 140.0,80.0 142.3,75.0 144.6,85.0 146.9,90.0 149.2,95.0 151.5,80.0 153.8,67.6 156.1,72.0 158.4,78.8 160.7,85.0 163.0,80.0 165.3,75.0 167.6,70.0 169.9,63.4 172.2,66.2 174.5,75.0 176.8,70.4 179.1,68.3 181.4,69.0 183.7,78.8 186.0,87.9 188.3,82.0 190.6,78.0 192.9,72.0 195.2,69.0 197.5,63.4 199.8,68.0 202.1,90.0 204.4,70.4 206.7,61.3 209.0,65.0 211.3,70.4 213.6,78.0 215.9,81.6 218.2,91.4 220.5,61.3 222.8,71.8 225.1,83.0 227.4,78.0 229.7,76.0 232.0,80.9 234.3,80.2 236.6,72.0 238.9,69.0 241.2,68.3 243.5,85.8 245.8,92.8 248.1,85.0 250.4,80.0 252.6,73.2 254.9,85.8 257.2,80.0 259.5,72.0 261.8,68.3 264.1,79.5 266.4,90.0 268.7,95.0 271.0,85.0 273.3,80.0 275.6,76.0 277.9,83.0 280.2,80.0 282.5,71.8 284.8,70.4 287.1,72.0 289.4,75.3 291.7,71.8 294.0,88.6 296.3,86.5 298.6,88.0 300.9,90.0 303.2,128.0 305.5,90.0 307.8,70.0 310.1,68.3 312.4,69.0 314.7,71.8 317.0,76.7 319.3,81.6 321.6,88.0 323.9,80.0 326.2,70.0 328.5,68.3 330.8,67.6 333.1,75.0 335.4,88.0 337.7,84.4 340.0,75.3 342.3,84.4 344.6,77.4 346.9,72.0 349.2,67.6 351.5,76.0 353.8,85.8 356.1,92.8 358.4,85.0 360.7,80.0 363.0,76.7 365.3,73.2 367.6,72.0 369.8,71.8 372.1,62.7 374.4,66.2 376.7,36.0 379.0,23.0 381.3,36.0 383.6,60.0 385.9,68.0 388.2,66.2 390.5,77.4 392.8,80.0 395.1,75.0 397.4,67.6 399.7,77.4 402.0,111.0 404.3,85.0 406.6,70.0 408.9,67.6 411.2,78.8 413.5,85.0 415.8,80.0 418.1,75.0 420.4,82.0 422.7,83.0 425.0,69.0 427.3,73.2 429.6,83.0 431.9,90.0 434.2,80.0 436.5,72.0 438.8,69.0 441.1,57.8 443.4,66.2 445.7,78.8 448.0,80.0 450.3,72.0 452.6,69.0 454.9,75.0 457.2,80.0 459.5,82.0 461.8,88.0 464.1,73.2 466.4,74.6 468.7,85.0 471.0,95.0 473.3,82.0 475.6,68.3 477.9,72.0 480.2,76.7 482.5,70.0 484.7,66.2 487.0,62.0 489.3,70.0 491.6,80.0 493.9,88.0 496.2,95.0 498.5,100.0 500.8,73.2 503.1,80.2 505.4,75.0 507.7,70.0 510.0,68.3 512.3,72.0 514.6,76.0 516.9,70.0 519.2,72.0 521.5,78.0 523.8,76.0 526.1,80.2 528.4,78.0 530.7,73.0 533.0,78.0 535.3,101.2 537.6,108.2 539.9,85.0 542.2,80.0 544.5,90.0 546.8,80.0 549.1,66.2 551.4,76.0 553.7,88.0 556.0,76.0 558.3,73.2 560.6,85.0 562.9,83.0 565.2,85.0 567.5,88.0 569.8,80.0 572.1,81.6 574.4,69.0 576.7,75.0 579.0,81.6 581.3,80.0 583.6,78.8 585.9,73.2 588.2,72.0 590.5,71.8 592.8,80.0 595.1,83.0 597.3,88.0 599.6,95.0 601.9,70.4 604.2,74.6 606.5,85.0 608.8,115.0 611.1,90.0 613.4,73.2 615.7,66.2 618.0,80.2 620.3,72.0 622.6,68.3 624.9,66.2 627.2,73.2 629.5,80.0 631.8,73.2 634.1,71.8 636.4,75.3 638.7,85.0 641.0,90.0 643.3,98.0 645.6,102.0 647.9,87.2 650.2,83.0 652.5,73.9 654.8,76.0 657.1,90.0 659.4,100.0 661.7,95.0 664.0,88.0 666.3,85.0 668.6,70.4 670.9,80.2 673.2,88.0" stroke="#0a0a0a" stroke-width="1.4" stroke-dasharray="13 7.5"/><polyline points="82.6,95.1 84.9,86.0 87.2,83.0 89.5,90.7 91.8,91.4 94.1,92.0 96.4,80.0 98.7,72.5 101.0,82.0 103.3,87.9 105.6,95.6 107.9,93.0 110.2,96.1 112.5,90.0 114.8,82.0 117.1,76.0 119.4,90.0 121.7,101.0 124.0,98.0 126.3,95.6 128.6,95.0 130.9,94.9 133.2,92.0 135.5,90.0 137.8,95.0 140.0,98.4 142.3,78.8 144.6,77.4 146.9,82.0 149.2,87.9 151.5,71.8 153.8,71.8 156.1,87.2 158.4,88.0 160.7,88.6 163.0,92.0 165.3,88.0 167.6,83.0 169.9,66.2 172.2,74.6 174.5,80.0 176.8,91.4 179.1,85.0 181.4,83.0 183.7,85.0 186.0,87.2 188.3,85.0 190.6,102.6 192.9,105.0 195.2,108.2 197.5,119.4 199.8,133.0 202.1,81.6 204.4,76.0 206.7,74.0 209.0,71.8 211.3,85.0 213.6,95.6 215.9,108.2 218.2,83.0 220.5,83.0 222.8,85.8 225.1,95.0 227.4,113.8 229.7,95.0 232.0,86.5 234.3,90.0 236.6,92.0 238.9,95.0 241.2,98.4 243.5,90.0 245.8,83.0 248.1,85.0 250.4,86.5 252.6,97.0 254.9,99.0 257.2,101.2 259.5,92.0 261.8,85.8 264.1,92.0 266.4,100.0 268.7,111.0 271.0,95.0 273.3,80.2 275.6,88.0 277.9,92.8 280.2,85.0 282.5,76.0 284.8,78.8 287.1,84.0 289.4,87.2 291.7,80.2 294.0,88.0 296.3,92.0 298.6,92.8 300.9,97.0 303.2,100.0 305.5,117.0 307.8,83.0 310.1,85.0 312.4,81.6 314.7,90.0 317.0,98.4 319.3,92.0 321.6,85.0 323.9,80.0 326.2,78.8 328.5,74.6 330.8,80.0 333.1,83.0 335.4,88.0 337.7,86.0 340.0,84.4 342.3,92.0 344.6,99.8 346.9,77.4 349.2,85.0 351.5,90.0 353.8,84.0 356.1,81.6 358.4,91.4 360.7,97.0 363.0,88.6 365.3,92.0 367.6,90.0 369.8,95.6 372.1,88.0 374.4,85.0 376.7,36.0 379.0,23.0 381.3,36.0 383.6,71.8 385.9,77.4 388.2,83.0 390.5,86.0 392.8,88.6 395.1,84.0 397.4,90.0 399.7,93.0 402.0,95.6 404.3,90.0 406.6,83.0 408.9,80.0 411.2,77.0 413.5,74.6 415.8,79.5 418.1,97.0 420.4,111.0 422.7,77.4 425.0,77.4 427.3,85.0 429.6,90.0 431.9,85.0 434.2,92.8 436.5,100.0 438.8,85.0 441.1,73.2 443.4,85.0 445.7,90.0 448.0,92.0 450.3,88.0 452.6,83.0 454.9,76.0 457.2,78.0 459.5,82.0 461.8,80.2 464.1,84.0 466.4,86.0 468.7,88.6 471.0,116.6 473.3,95.0 475.6,92.0 477.9,90.0 480.2,85.0 482.5,80.0 484.7,74.6 487.0,90.0 489.3,112.4 491.6,92.0 493.9,83.0 496.2,90.0 498.5,85.0 500.8,80.0 503.1,76.0 505.4,85.0 507.7,92.0 510.0,85.0 512.3,80.2 514.6,82.0 516.9,78.8 519.2,101.2 521.5,88.6 523.8,92.0 526.1,97.0 528.4,111.0 530.7,90.0 533.0,83.0 535.3,92.0 537.6,97.0 539.9,95.0 542.2,92.0 544.5,90.0 546.8,87.2 549.1,101.2 551.4,138.0 553.7,100.0 556.0,90.0 558.3,83.0 560.6,73.2 562.9,78.0 565.2,81.6 567.5,95.6 569.8,105.4 572.1,85.8 574.4,90.0 576.7,92.8 579.0,88.0 581.3,82.0 583.6,78.0 585.9,73.2 588.2,70.0 590.5,66.2 592.8,85.0 595.1,123.6 597.3,100.0 599.6,80.2 601.9,76.0 604.2,85.0 606.5,92.0 608.8,94.2 611.1,100.0 613.4,92.0 615.7,87.2 618.0,84.4 620.3,80.0 622.6,74.6 624.9,82.0 627.2,85.8 629.5,90.0 631.8,95.0 634.1,92.0 636.4,90.0 638.7,95.0 641.0,98.0 643.3,100.0 645.6,101.2 647.9,95.0 650.2,92.0 652.5,90.0 654.8,87.2 657.1,90.0 659.4,85.0 661.7,80.2 664.0,90.0 666.3,100.0 668.6,112.4 670.9,97.0 673.2,88.6" stroke="#f000f0" stroke-width="1.4" stroke-dasharray="11 3.7 3 3.5"/><polyline points="82.6,92.0 84.9,105.0 87.9,101.0 91.3,193.5 94.7,101.0 96.4,66.2 98.7,72.0 101.0,83.7 103.3,80.0 105.6,76.0 108.9,94.0 112.3,143.6 115.7,94.0 117.1,74.6 119.4,86.0 122.5,96.0 125.9,182.7 129.3,96.0 130.9,66.5 132.4,104.0 135.8,180.1 139.2,104.0 141.3,101.0 144.7,198.4 148.1,101.0 151.5,85.8 153.8,99.8 156.1,92.8 158.4,97.0 160.7,91.4 163.0,113.8 165.3,87.2 167.6,68.3 169.9,69.0 171.9,91.0 175.3,118.0 178.7,91.0 181.4,88.6 183.7,88.6 186.0,95.6 188.3,80.9 190.6,90.0 192.9,101.2 195.2,95.0 197.5,88.6 199.8,86.0 202.1,84.4 204.4,80.2 206.7,76.0 209.0,70.4 211.3,76.0 213.6,83.0 215.9,90.0 218.2,98.4 220.5,80.2 222.8,78.1 225.1,97.0 228.5,202.1 231.9,97.0 234.3,94.2 236.6,90.0 239.0,91.0 242.4,132.6 245.8,91.0 248.1,90.0 250.4,83.0 252.6,79.5 254.7,96.0 258.1,188.7 260.8,197.6 264.2,96.0 266.4,87.2 268.7,99.8 271.0,83.0 273.3,84.4 275.6,90.0 277.9,97.0 280.2,106.8 282.5,85.8 284.8,88.6 287.1,86.0 289.4,83.0 291.7,78.1 294.0,94.2 296.3,111.0 298.6,91.4 300.9,97.0 303.2,85.0 305.5,78.0 307.8,73.2 310.1,80.9 312.4,72.0 314.7,66.2 317.3,96.0 320.7,199.6 324.1,96.0 326.2,76.0 328.5,72.0 330.8,67.6 333.4,96.0 336.8,201.9 340.6,91.0 344.0,124.7 347.4,91.0 349.2,66.9 351.5,76.0 354.7,101.0 358.1,203.0 361.5,101.0 363.0,95.0 365.3,90.0 367.6,101.2 369.8,88.6 372.1,80.2 374.4,75.0 376.7,36.0 379.0,23.0 381.3,36.0 383.6,59.2 385.9,66.2 388.2,83.0 390.5,90.0 392.8,74.6 395.1,73.2 397.4,78.0 399.7,83.0 402.0,90.0 404.3,85.0 406.6,80.2 408.9,71.8 411.2,69.0 413.5,72.0 415.8,76.0 418.1,87.2 420.4,92.8 421.8,96.0 425.2,189.4 427.9,179.4 430.1,188.3 433.5,96.0 436.5,95.0 438.8,90.0 441.1,80.2 443.4,97.0 445.7,90.0 447.6,81.0 451.0,153.5 454.4,81.0 457.2,83.0 458.9,91.0 462.3,200.6 466.8,187.2 471.2,208.4 474.6,91.0 477.9,101.2 480.2,90.0 482.5,78.0 484.7,73.2 487.0,71.8 489.3,69.0 491.6,85.0 493.9,101.2 496.2,106.8 498.5,90.0 500.8,83.0 503.1,76.0 505.4,90.0 507.7,105.4 510.0,85.0 512.3,71.8 514.6,66.0 516.9,62.7 519.2,70.4 521.5,84.4 523.8,71.8 526.1,80.0 528.3,96.0 531.7,183.2 535.1,96.0 537.6,101.2 539.9,97.0 542.2,95.6 544.5,94.0 546.8,92.8 549.1,92.8 551.4,101.0 554.8,190.5 558.2,101.0 560.6,83.0 562.9,78.0 565.2,73.2 567.5,85.8 569.8,95.6 572.1,102.6 574.4,85.8 576.7,83.0 579.0,92.0 581.3,99.8 583.6,88.6 585.9,92.8 588.2,85.0 590.5,76.0 592.8,88.0 595.1,97.0 597.3,83.0 599.6,95.0 601.9,106.8 604.2,108.2 606.5,100.0 608.1,101.0 611.5,185.0 613.7,209.7 616.0,190.0 619.4,101.0 622.6,70.0 624.9,68.3 627.2,71.8 629.5,87.2 631.8,90.0 634.1,92.8 636.4,80.9 638.7,95.6 641.0,84.4 643.3,95.0 644.6,96.0 648.0,198.0 650.2,189.9 653.6,96.0 657.1,91.4 659.4,80.0 661.7,71.8 664.0,90.0 666.3,95.0 668.6,102.0 670.9,108.2 673.2,97.0" stroke="#edb120" stroke-width="1.2"/><polyline points="82.6,302.8 84.9,305.1 87.2,307.4 89.5,317.5 91.8,342.4 94.1,354.8 96.4,321.4 98.7,311.4 101.0,321.4 103.3,305.8 105.6,292.3 107.9,303.5 110.2,374.3 112.5,348.0 114.8,345.0 117.1,335.4 119.4,361.1 121.7,328.0 124.0,342.4 126.3,335.0 128.6,341.2 130.9,321.4 133.2,298.8 135.5,317.9 137.8,302.8 140.0,311.0 142.3,314.4 144.6,318.0 146.9,315.1 149.2,321.4 151.5,296.5 153.8,322.6 156.1,311.0 158.4,306.0 160.7,302.3 163.0,311.0 165.3,311.0 167.6,295.8 169.9,311.0 172.2,326.1 174.5,315.0 176.8,295.1 179.1,302.8 181.4,299.0 183.7,295.1 186.0,320.3 188.3,306.7 190.6,304.0 192.9,294.2 195.2,308.6 197.5,309.8 199.8,338.2 202.1,304.4 204.4,284.8 206.7,297.0 209.0,345.9 211.3,293.5 213.6,300.0 215.9,291.1 218.2,296.0 220.5,298.1 222.8,305.0 225.1,314.4 227.4,308.0 229.7,302.8 232.0,306.0 234.3,304.0 236.6,297.0 238.9,305.0 241.2,309.0 243.5,313.7 245.8,298.0 248.1,284.8 250.4,345.9 252.6,293.5 254.9,300.5 257.2,295.8 259.5,298.0 261.8,296.5 264.1,288.8 266.4,300.5 268.7,287.7 271.0,285.8 273.3,294.2 275.6,284.9 277.9,283.0 280.2,288.0 282.5,273.1 284.8,287.8 287.1,287.9 289.4,286.8 291.7,284.5 294.0,283.7 296.3,282.6 298.6,282.5 300.9,281.0 303.2,280.7 305.5,277.6 307.8,279.2 310.1,276.7 312.4,276.1 314.7,274.2 317.0,272.6 319.3,271.8 321.6,270.4 323.9,267.9 326.2,266.2 328.5,265.1 330.8,262.0 333.1,259.6 335.4,259.1 337.7,256.1 340.0,252.9 342.3,251.4 344.6,249.2 346.9,246.1 349.2,243.0 351.5,240.9 353.8,237.7 356.1,231.3 358.4,225.6 360.7,221.1 363.0,215.9 365.3,208.9 367.6,202.8 369.8,193.8 372.1,180.1 374.4,164.0 376.7,38.0 379.0,25.3 381.3,38.0 383.6,160.0 385.9,179.8 388.2,192.3 390.5,201.0 392.8,209.2 395.1,215.7 397.4,220.2 399.7,227.3 402.0,232.2 404.3,237.5 406.6,241.2 408.9,244.9 411.2,246.0 413.5,250.1 415.8,252.5 418.1,253.0 420.4,256.9 422.7,258.6 425.0,261.4 427.3,262.3 429.6,264.5 431.9,266.6 434.2,267.4 436.5,270.3 438.8,271.3 441.1,273.3 443.4,273.9 445.7,276.5 448.0,277.3 450.3,277.8 452.6,279.5 454.9,281.1 457.2,282.5 459.5,280.8 461.8,283.7 464.1,284.3 466.4,284.8 468.7,285.1 471.0,289.5 473.3,280.2 475.6,292.3 477.9,290.0 480.2,285.3 482.5,291.1 484.7,304.0 487.0,278.3 489.3,298.1 491.6,287.6 493.9,315.1 496.2,283.0 498.5,290.0 500.8,291.1 503.1,291.8 505.4,308.6 507.7,295.1 510.0,301.6 512.3,300.0 514.6,305.0 516.9,308.6 519.2,300.0 521.5,292.8 523.8,298.0 526.1,292.8 528.4,302.0 530.7,313.3 533.0,300.5 535.3,313.3 537.6,304.0 539.9,295.1 542.2,304.0 544.5,309.0 546.8,313.3 549.1,318.0 551.4,323.1 553.7,306.3 556.0,300.5 558.3,307.4 560.6,297.4 562.9,287.6 565.2,322.6 567.5,322.3 569.8,312.1 572.1,363.4 574.4,297.1 576.7,306.5 579.0,337.7 581.3,298.3 583.6,331.2 585.9,297.7 588.2,303.9 590.5,335.3 592.8,310.0 595.1,296.7 597.3,315.1 599.6,309.0 601.9,303.2 604.2,302.4 606.5,324.4 608.8,319.3 611.1,320.3 613.4,315.6 615.7,300.8 618.0,288.1 620.3,297.7 622.6,312.1 624.9,311.5 627.2,323.8 629.5,326.4 631.8,311.0 634.1,294.2 636.4,316.2 638.7,331.6 641.0,346.0 643.3,349.0 645.6,345.0 647.9,325.0 650.2,311.0 652.5,313.5 654.8,326.4 657.1,323.8 659.4,310.6 661.7,314.1 664.0,314.1 666.3,305.3 668.6,322.9 670.9,301.8 673.2,300.4" stroke="#d01818" stroke-width="1.4" stroke-dasharray="10 4 2 4"/><g fill="none" stroke="#d01818" stroke-width="1.25"><circle cx="82.6" cy="302.8" r="3.15"/><circle cx="84.9" cy="305.1" r="3.15"/><circle cx="87.2" cy="307.4" r="3.15"/><circle cx="89.5" cy="317.5" r="3.15"/><circle cx="91.8" cy="342.4" r="3.15"/><circle cx="94.1" cy="354.8" r="3.15"/><circle cx="96.4" cy="321.4" r="3.15"/><circle cx="98.7" cy="311.4" r="3.15"/><circle cx="101.0" cy="321.4" r="3.15"/><circle cx="103.3" cy="305.8" r="3.15"/><circle cx="105.6" cy="292.3" r="3.15"/><circle cx="107.9" cy="303.5" r="3.15"/><circle cx="110.2" cy="374.3" r="3.15"/><circle cx="112.5" cy="348.0" r="3.15"/><circle cx="114.8" cy="345.0" r="3.15"/><circle cx="117.1" cy="335.4" r="3.15"/><circle cx="119.4" cy="361.1" r="3.15"/><circle cx="121.7" cy="328.0" r="3.15"/><circle cx="124.0" cy="342.4" r="3.15"/><circle cx="126.3" cy="335.0" r="3.15"/><circle cx="128.6" cy="341.2" r="3.15"/><circle cx="130.9" cy="321.4" r="3.15"/><circle cx="133.2" cy="298.8" r="3.15"/><circle cx="135.5" cy="317.9" r="3.15"/><circle cx="137.8" cy="302.8" r="3.15"/><circle cx="140.0" cy="311.0" r="3.15"/><circle cx="142.3" cy="314.4" r="3.15"/><circle cx="144.6" cy="318.0" r="3.15"/><circle cx="146.9" cy="315.1" r="3.15"/><circle cx="149.2" cy="321.4" r="3.15"/><circle cx="151.5" cy="296.5" r="3.15"/><circle cx="153.8" cy="322.6" r="3.15"/><circle cx="156.1" cy="311.0" r="3.15"/><circle cx="158.4" cy="306.0" r="3.15"/><circle cx="160.7" cy="302.3" r="3.15"/><circle cx="163.0" cy="311.0" r="3.15"/><circle cx="165.3" cy="311.0" r="3.15"/><circle cx="167.6" cy="295.8" r="3.15"/><circle cx="169.9" cy="311.0" r="3.15"/><circle cx="172.2" cy="326.1" r="3.15"/><circle cx="174.5" cy="315.0" r="3.15"/><circle cx="176.8" cy="295.1" r="3.15"/><circle cx="179.1" cy="302.8" r="3.15"/><circle cx="181.4" cy="299.0" r="3.15"/><circle cx="183.7" cy="295.1" r="3.15"/><circle cx="186.0" cy="320.3" r="3.15"/><circle cx="188.3" cy="306.7" r="3.15"/><circle cx="190.6" cy="304.0" r="3.15"/><circle cx="192.9" cy="294.2" r="3.15"/><circle cx="195.2" cy="308.6" r="3.15"/><circle cx="197.5" cy="309.8" r="3.15"/><circle cx="199.8" cy="338.2" r="3.15"/><circle cx="202.1" cy="304.4" r="3.15"/><circle cx="204.4" cy="284.8" r="3.15"/><circle cx="206.7" cy="297.0" r="3.15"/><circle cx="209.0" cy="345.9" r="3.15"/><circle cx="211.3" cy="293.5" r="3.15"/><circle cx="213.6" cy="300.0" r="3.15"/><circle cx="215.9" cy="291.1" r="3.15"/><circle cx="218.2" cy="296.0" r="3.15"/><circle cx="220.5" cy="298.1" r="3.15"/><circle cx="222.8" cy="305.0" r="3.15"/><circle cx="225.1" cy="314.4" r="3.15"/><circle cx="227.4" cy="308.0" r="3.15"/><circle cx="229.7" cy="302.8" r="3.15"/><circle cx="232.0" cy="306.0" r="3.15"/><circle cx="234.3" cy="304.0" r="3.15"/><circle cx="236.6" cy="297.0" r="3.15"/><circle cx="238.9" cy="305.0" r="3.15"/><circle cx="241.2" cy="309.0" r="3.15"/><circle cx="243.5" cy="313.7" r="3.15"/><circle cx="245.8" cy="298.0" r="3.15"/><circle cx="248.1" cy="284.8" r="3.15"/><circle cx="250.4" cy="345.9" r="3.15"/><circle cx="252.6" cy="293.5" r="3.15"/><circle cx="254.9" cy="300.5" r="3.15"/><circle cx="257.2" cy="295.8" r="3.15"/><circle cx="259.5" cy="298.0" r="3.15"/><circle cx="261.8" cy="296.5" r="3.15"/><circle cx="264.1" cy="288.8" r="3.15"/><circle cx="266.4" cy="300.5" r="3.15"/><circle cx="268.7" cy="287.7" r="3.15"/><circle cx="271.0" cy="285.8" r="3.15"/><circle cx="273.3" cy="294.2" r="3.15"/><circle cx="275.6" cy="284.9" r="3.15"/><circle cx="277.9" cy="283.0" r="3.15"/><circle cx="280.2" cy="288.0" r="3.15"/><circle cx="282.5" cy="273.1" r="3.15"/><circle cx="284.8" cy="287.8" r="3.15"/><circle cx="287.1" cy="287.9" r="3.15"/><circle cx="289.4" cy="286.8" r="3.15"/><circle cx="291.7" cy="284.5" r="3.15"/><circle cx="294.0" cy="283.7" r="3.15"/><circle cx="296.3" cy="282.6" r="3.15"/><circle cx="298.6" cy="282.5" r="3.15"/><circle cx="300.9" cy="281.0" r="3.15"/><circle cx="303.2" cy="280.7" r="3.15"/><circle cx="305.5" cy="277.6" r="3.15"/><circle cx="307.8" cy="279.2" r="3.15"/><circle cx="310.1" cy="276.7" r="3.15"/><circle cx="312.4" cy="276.1" r="3.15"/><circle cx="314.7" cy="274.2" r="3.15"/><circle cx="317.0" cy="272.6" r="3.15"/><circle cx="319.3" cy="271.8" r="3.15"/><circle cx="321.6" cy="270.4" r="3.15"/><circle cx="323.9" cy="267.9" r="3.15"/><circle cx="326.2" cy="266.2" r="3.15"/><circle cx="328.5" cy="265.1" r="3.15"/><circle cx="330.8" cy="262.0" r="3.15"/><circle cx="333.1" cy="259.6" r="3.15"/><circle cx="335.4" cy="259.1" r="3.15"/><circle cx="337.7" cy="256.1" r="3.15"/><circle cx="340.0" cy="252.9" r="3.15"/><circle cx="342.3" cy="251.4" r="3.15"/><circle cx="344.6" cy="249.2" r="3.15"/><circle cx="346.9" cy="246.1" r="3.15"/><circle cx="349.2" cy="243.0" r="3.15"/><circle cx="351.5" cy="240.9" r="3.15"/><circle cx="353.8" cy="237.7" r="3.15"/><circle cx="356.1" cy="231.3" r="3.15"/><circle cx="358.4" cy="225.6" r="3.15"/><circle cx="360.7" cy="221.1" r="3.15"/><circle cx="363.0" cy="215.9" r="3.15"/><circle cx="365.3" cy="208.9" r="3.15"/><circle cx="367.6" cy="202.8" r="3.15"/><circle cx="369.8" cy="193.8" r="3.15"/><circle cx="372.1" cy="180.1" r="3.15"/><circle cx="374.4" cy="164.0" r="3.15"/><circle cx="376.7" cy="38.0" r="3.15"/><circle cx="379.0" cy="25.3" r="3.15"/><circle cx="381.3" cy="38.0" r="3.15"/><circle cx="383.6" cy="160.0" r="3.15"/><circle cx="385.9" cy="179.8" r="3.15"/><circle cx="388.2" cy="192.3" r="3.15"/><circle cx="390.5" cy="201.0" r="3.15"/><circle cx="392.8" cy="209.2" r="3.15"/><circle cx="395.1" cy="215.7" r="3.15"/><circle cx="397.4" cy="220.2" r="3.15"/><circle cx="399.7" cy="227.3" r="3.15"/><circle cx="402.0" cy="232.2" r="3.15"/><circle cx="404.3" cy="237.5" r="3.15"/><circle cx="406.6" cy="241.2" r="3.15"/><circle cx="408.9" cy="244.9" r="3.15"/><circle cx="411.2" cy="246.0" r="3.15"/><circle cx="413.5" cy="250.1" r="3.15"/><circle cx="415.8" cy="252.5" r="3.15"/><circle cx="418.1" cy="253.0" r="3.15"/><circle cx="420.4" cy="256.9" r="3.15"/><circle cx="422.7" cy="258.6" r="3.15"/><circle cx="425.0" cy="261.4" r="3.15"/><circle cx="427.3" cy="262.3" r="3.15"/><circle cx="429.6" cy="264.5" r="3.15"/><circle cx="431.9" cy="266.6" r="3.15"/><circle cx="434.2" cy="267.4" r="3.15"/><circle cx="436.5" cy="270.3" r="3.15"/><circle cx="438.8" cy="271.3" r="3.15"/><circle cx="441.1" cy="273.3" r="3.15"/><circle cx="443.4" cy="273.9" r="3.15"/><circle cx="445.7" cy="276.5" r="3.15"/><circle cx="448.0" cy="277.3" r="3.15"/><circle cx="450.3" cy="277.8" r="3.15"/><circle cx="452.6" cy="279.5" r="3.15"/><circle cx="454.9" cy="281.1" r="3.15"/><circle cx="457.2" cy="282.5" r="3.15"/><circle cx="459.5" cy="280.8" r="3.15"/><circle cx="461.8" cy="283.7" r="3.15"/><circle cx="464.1" cy="284.3" r="3.15"/><circle cx="466.4" cy="284.8" r="3.15"/><circle cx="468.7" cy="285.1" r="3.15"/><circle cx="471.0" cy="289.5" r="3.15"/><circle cx="473.3" cy="280.2" r="3.15"/><circle cx="475.6" cy="292.3" r="3.15"/><circle cx="477.9" cy="290.0" r="3.15"/><circle cx="480.2" cy="285.3" r="3.15"/><circle cx="482.5" cy="291.1" r="3.15"/><circle cx="484.7" cy="304.0" r="3.15"/><circle cx="487.0" cy="278.3" r="3.15"/><circle cx="489.3" cy="298.1" r="3.15"/><circle cx="491.6" cy="287.6" r="3.15"/><circle cx="493.9" cy="315.1" r="3.15"/><circle cx="496.2" cy="283.0" r="3.15"/><circle cx="498.5" cy="290.0" r="3.15"/><circle cx="500.8" cy="291.1" r="3.15"/><circle cx="503.1" cy="291.8" r="3.15"/><circle cx="505.4" cy="308.6" r="3.15"/><circle cx="507.7" cy="295.1" r="3.15"/><circle cx="510.0" cy="301.6" r="3.15"/><circle cx="512.3" cy="300.0" r="3.15"/><circle cx="514.6" cy="305.0" r="3.15"/><circle cx="516.9" cy="308.6" r="3.15"/><circle cx="519.2" cy="300.0" r="3.15"/><circle cx="521.5" cy="292.8" r="3.15"/><circle cx="523.8" cy="298.0" r="3.15"/><circle cx="526.1" cy="292.8" r="3.15"/><circle cx="528.4" cy="302.0" r="3.15"/><circle cx="530.7" cy="313.3" r="3.15"/><circle cx="533.0" cy="300.5" r="3.15"/><circle cx="535.3" cy="313.3" r="3.15"/><circle cx="537.6" cy="304.0" r="3.15"/><circle cx="539.9" cy="295.1" r="3.15"/><circle cx="542.2" cy="304.0" r="3.15"/><circle cx="544.5" cy="309.0" r="3.15"/><circle cx="546.8" cy="313.3" r="3.15"/><circle cx="549.1" cy="318.0" r="3.15"/><circle cx="551.4" cy="323.1" r="3.15"/><circle cx="553.7" cy="306.3" r="3.15"/><circle cx="556.0" cy="300.5" r="3.15"/><circle cx="558.3" cy="307.4" r="3.15"/><circle cx="560.6" cy="297.4" r="3.15"/><circle cx="562.9" cy="287.6" r="3.15"/><circle cx="565.2" cy="322.6" r="3.15"/><circle cx="567.5" cy="322.3" r="3.15"/><circle cx="569.8" cy="312.1" r="3.15"/><circle cx="572.1" cy="363.4" r="3.15"/><circle cx="574.4" cy="297.1" r="3.15"/><circle cx="576.7" cy="306.5" r="3.15"/><circle cx="579.0" cy="337.7" r="3.15"/><circle cx="581.3" cy="298.3" r="3.15"/><circle cx="583.6" cy="331.2" r="3.15"/><circle cx="585.9" cy="297.7" r="3.15"/><circle cx="588.2" cy="303.9" r="3.15"/><circle cx="590.5" cy="335.3" r="3.15"/><circle cx="592.8" cy="310.0" r="3.15"/><circle cx="595.1" cy="296.7" r="3.15"/><circle cx="597.3" cy="315.1" r="3.15"/><circle cx="599.6" cy="309.0" r="3.15"/><circle cx="601.9" cy="303.2" r="3.15"/><circle cx="604.2" cy="302.4" r="3.15"/><circle cx="606.5" cy="324.4" r="3.15"/><circle cx="608.8" cy="319.3" r="3.15"/><circle cx="611.1" cy="320.3" r="3.15"/><circle cx="613.4" cy="315.6" r="3.15"/><circle cx="615.7" cy="300.8" r="3.15"/><circle cx="618.0" cy="288.1" r="3.15"/><circle cx="620.3" cy="297.7" r="3.15"/><circle cx="622.6" cy="312.1" r="3.15"/><circle cx="624.9" cy="311.5" r="3.15"/><circle cx="627.2" cy="323.8" r="3.15"/><circle cx="629.5" cy="326.4" r="3.15"/><circle cx="631.8" cy="311.0" r="3.15"/><circle cx="634.1" cy="294.2" r="3.15"/><circle cx="636.4" cy="316.2" r="3.15"/><circle cx="638.7" cy="331.6" r="3.15"/><circle cx="641.0" cy="346.0" r="3.15"/><circle cx="643.3" cy="349.0" r="3.15"/><circle cx="645.6" cy="345.0" r="3.15"/><circle cx="647.9" cy="325.0" r="3.15"/><circle cx="650.2" cy="311.0" r="3.15"/><circle cx="652.5" cy="313.5" r="3.15"/><circle cx="654.8" cy="326.4" r="3.15"/><circle cx="657.1" cy="323.8" r="3.15"/><circle cx="659.4" cy="310.6" r="3.15"/><circle cx="661.7" cy="314.1" r="3.15"/><circle cx="664.0" cy="314.1" r="3.15"/><circle cx="666.3" cy="305.3" r="3.15"/><circle cx="668.6" cy="322.9" r="3.15"/><circle cx="670.9" cy="301.8" r="3.15"/><circle cx="673.2" cy="300.4" r="3.15"/></g><polyline points="84.9,401.0 87.2,386.9 89.5,377.5 91.8,369.3 94.0,364.6 96.3,361.3 98.6,358.6 100.9,356.3 103.2,354.2 105.5,352.3 107.8,350.5 110.1,348.9 112.4,347.4 114.7,346.1 117.0,345.0 119.3,343.8 121.6,342.6 123.9,341.5 126.2,340.4 128.5,339.3 130.8,338.1 133.1,336.9 135.4,335.7 137.7,334.7 140.0,333.7 142.3,332.8 144.6,331.9 146.9,331.1 149.2,330.3 151.5,329.5 153.8,328.7 156.1,328.0 158.4,327.3 160.7,326.6 163.0,325.9 165.3,325.2 167.6,324.5 169.9,323.9 172.2,323.2 174.5,322.5 176.8,321.9 179.1,321.2 181.4,320.5 183.7,319.9 186.0,319.2 188.3,318.5 190.6,317.9 192.9,317.2 195.2,316.5 197.5,315.8 199.8,315.0 202.1,314.3 204.4,313.5 206.7,312.6 208.9,311.8 211.2,310.9 213.5,310.0 215.8,309.2 218.1,308.3 220.4,307.4 222.7,306.6 225.0,305.7 227.3,304.9 229.6,304.2 231.9,303.4 234.2,302.7 236.5,302.0 238.8,301.4 241.1,300.7 243.4,300.1 245.7,299.4 248.0,298.8 250.3,298.1 252.6,297.4 254.9,296.7 257.2,295.9 259.5,295.1 261.8,294.3 264.1,293.5 266.4,292.6 268.7,291.7 271.0,290.8 273.3,289.8 275.6,288.9 277.9,287.9 280.2,286.9 282.5,286.0 284.8,285.0 287.1,284.0 289.4,283.1 291.7,282.1 294.0,281.2 296.3,280.2 298.6,279.3 300.9,278.3 303.2,277.3 305.5,276.2 307.8,275.1 310.1,274.0 312.4,272.8 314.7,271.5 317.0,270.1 319.3,268.6 321.6,267.0 323.8,265.3 326.1,263.5 328.4,261.7 330.7,259.9 333.0,258.0 335.3,256.0 337.6,253.9 339.9,251.6 342.2,249.3 344.5,246.8 346.8,244.2 349.1,241.4 351.4,238.1 353.7,234.2 356.0,228.7 358.3,223.4 360.6,218.0 362.9,212.5 365.2,206.3 367.5,199.6 369.8,190.2 372.1,177.5 374.4,156.8 376.7,37.0 379.0,23.0 381.3,37.0 383.6,156.8 385.9,177.5 388.2,190.2 390.5,199.6 392.8,206.3 395.1,212.5 397.4,218.0 399.7,223.4 402.0,228.7 404.3,234.2 406.6,238.1 408.9,241.4 411.2,244.2 413.5,246.8 415.8,249.3 418.1,251.6 420.4,253.9 422.7,256.0 425.0,258.0 427.3,259.9 429.6,261.7 431.9,263.5 434.2,265.3 436.4,267.0 438.7,268.6 441.0,270.1 443.3,271.5 445.6,272.8 447.9,274.0 450.2,275.1 452.5,276.2 454.8,277.3 457.1,278.3 459.4,279.3 461.7,280.2 464.0,281.2 466.3,282.1 468.6,283.1 470.9,284.0 473.2,285.0 475.5,286.0 477.8,286.9 480.1,287.9 482.4,288.9 484.7,289.8 487.0,290.8 489.3,291.7 491.6,292.6 493.9,293.5 496.2,294.3 498.5,295.1 500.8,295.9 503.1,296.7 505.4,297.4 507.7,298.1 510.0,298.8 512.3,299.4 514.6,300.1 516.9,300.7 519.2,301.4 521.5,302.0 523.8,302.7 526.1,303.4 528.4,304.2 530.7,304.9 533.0,305.7 535.3,306.6 537.6,307.4 539.9,308.3 542.2,309.2 544.5,310.0 546.8,310.9 549.1,311.8 551.4,312.6 553.6,313.5 555.9,314.3 558.2,315.0 560.5,315.8 562.8,316.5 565.1,317.2 567.4,317.9 569.7,318.5 572.0,319.2 574.3,319.9 576.6,320.5 578.9,321.2 581.2,321.9 583.5,322.5 585.8,323.2 588.1,323.9 590.4,324.5 592.7,325.2 595.0,325.9 597.3,326.6 599.6,327.3 601.9,328.0 604.2,328.7 606.5,329.5 608.8,330.3 611.1,331.1 613.4,331.9 615.7,332.8 618.0,333.7 620.3,334.7 622.6,335.7 624.9,336.9 627.2,338.1 629.5,339.3 631.8,340.4 634.1,341.5 636.4,342.6 638.7,343.8 641.0,345.0 643.3,346.1 645.6,347.4 647.9,348.9 650.2,350.5 652.5,352.3 654.8,354.2 657.1,356.3 659.4,358.6 661.7,361.3 664.0,364.6 666.2,369.3 668.5,377.5 670.8,386.9 673.1,401.0" stroke="#00ffff" stroke-width="1.5" stroke-dasharray="7 3 1.5 3"/><g fill="#00ffff" stroke="none"><circle cx="84.9" cy="401.0" r="3.15"/><circle cx="87.2" cy="386.9" r="3.15"/><circle cx="89.5" cy="377.5" r="3.15"/><circle cx="91.8" cy="369.3" r="3.15"/><circle cx="94.0" cy="364.6" r="3.15"/><circle cx="96.3" cy="361.3" r="3.15"/><circle cx="98.6" cy="358.6" r="3.15"/><circle cx="100.9" cy="356.3" r="3.15"/><circle cx="103.2" cy="354.2" r="3.15"/><circle cx="105.5" cy="352.3" r="3.15"/><circle cx="107.8" cy="350.5" r="3.15"/><circle cx="110.1" cy="348.9" r="3.15"/><circle cx="112.4" cy="347.4" r="3.15"/><circle cx="114.7" cy="346.1" r="3.15"/><circle cx="117.0" cy="345.0" r="3.15"/><circle cx="119.3" cy="343.8" r="3.15"/><circle cx="121.6" cy="342.6" r="3.15"/><circle cx="123.9" cy="341.5" r="3.15"/><circle cx="126.2" cy="340.4" r="3.15"/><circle cx="128.5" cy="339.3" r="3.15"/><circle cx="130.8" cy="338.1" r="3.15"/><circle cx="133.1" cy="336.9" r="3.15"/><circle cx="135.4" cy="335.7" r="3.15"/><circle cx="137.7" cy="334.7" r="3.15"/><circle cx="140.0" cy="333.7" r="3.15"/><circle cx="142.3" cy="332.8" r="3.15"/><circle cx="144.6" cy="331.9" r="3.15"/><circle cx="146.9" cy="331.1" r="3.15"/><circle cx="149.2" cy="330.3" r="3.15"/><circle cx="151.5" cy="329.5" r="3.15"/><circle cx="153.8" cy="328.7" r="3.15"/><circle cx="156.1" cy="328.0" r="3.15"/><circle cx="158.4" cy="327.3" r="3.15"/><circle cx="160.7" cy="326.6" r="3.15"/><circle cx="163.0" cy="325.9" r="3.15"/><circle cx="165.3" cy="325.2" r="3.15"/><circle cx="167.6" cy="324.5" r="3.15"/><circle cx="169.9" cy="323.9" r="3.15"/><circle cx="172.2" cy="323.2" r="3.15"/><circle cx="174.5" cy="322.5" r="3.15"/><circle cx="176.8" cy="321.9" r="3.15"/><circle cx="179.1" cy="321.2" r="3.15"/><circle cx="181.4" cy="320.5" r="3.15"/><circle cx="183.7" cy="319.9" r="3.15"/><circle cx="186.0" cy="319.2" r="3.15"/><circle cx="188.3" cy="318.5" r="3.15"/><circle cx="190.6" cy="317.9" r="3.15"/><circle cx="192.9" cy="317.2" r="3.15"/><circle cx="195.2" cy="316.5" r="3.15"/><circle cx="197.5" cy="315.8" r="3.15"/><circle cx="199.8" cy="315.0" r="3.15"/><circle cx="202.1" cy="314.3" r="3.15"/><circle cx="204.4" cy="313.5" r="3.15"/><circle cx="206.7" cy="312.6" r="3.15"/><circle cx="208.9" cy="311.8" r="3.15"/><circle cx="211.2" cy="310.9" r="3.15"/><circle cx="213.5" cy="310.0" r="3.15"/><circle cx="215.8" cy="309.2" r="3.15"/><circle cx="218.1" cy="308.3" r="3.15"/><circle cx="220.4" cy="307.4" r="3.15"/><circle cx="222.7" cy="306.6" r="3.15"/><circle cx="225.0" cy="305.7" r="3.15"/><circle cx="227.3" cy="304.9" r="3.15"/><circle cx="229.6" cy="304.2" r="3.15"/><circle cx="231.9" cy="303.4" r="3.15"/><circle cx="234.2" cy="302.7" r="3.15"/><circle cx="236.5" cy="302.0" r="3.15"/><circle cx="238.8" cy="301.4" r="3.15"/><circle cx="241.1" cy="300.7" r="3.15"/><circle cx="243.4" cy="300.1" r="3.15"/><circle cx="245.7" cy="299.4" r="3.15"/><circle cx="248.0" cy="298.8" r="3.15"/><circle cx="250.3" cy="298.1" r="3.15"/><circle cx="252.6" cy="297.4" r="3.15"/><circle cx="254.9" cy="296.7" r="3.15"/><circle cx="257.2" cy="295.9" r="3.15"/><circle cx="259.5" cy="295.1" r="3.15"/><circle cx="261.8" cy="294.3" r="3.15"/><circle cx="264.1" cy="293.5" r="3.15"/><circle cx="266.4" cy="292.6" r="3.15"/><circle cx="268.7" cy="291.7" r="3.15"/><circle cx="271.0" cy="290.8" r="3.15"/><circle cx="273.3" cy="289.8" r="3.15"/><circle cx="275.6" cy="288.9" r="3.15"/><circle cx="277.9" cy="287.9" r="3.15"/><circle cx="280.2" cy="286.9" r="3.15"/><circle cx="282.5" cy="286.0" r="3.15"/><circle cx="284.8" cy="285.0" r="3.15"/><circle cx="287.1" cy="284.0" r="3.15"/><circle cx="289.4" cy="283.1" r="3.15"/><circle cx="291.7" cy="282.1" r="3.15"/><circle cx="294.0" cy="281.2" r="3.15"/><circle cx="296.3" cy="280.2" r="3.15"/><circle cx="298.6" cy="279.3" r="3.15"/><circle cx="300.9" cy="278.3" r="3.15"/><circle cx="303.2" cy="277.3" r="3.15"/><circle cx="305.5" cy="276.2" r="3.15"/><circle cx="307.8" cy="275.1" r="3.15"/><circle cx="310.1" cy="274.0" r="3.15"/><circle cx="312.4" cy="272.8" r="3.15"/><circle cx="314.7" cy="271.5" r="3.15"/><circle cx="317.0" cy="270.1" r="3.15"/><circle cx="319.3" cy="268.6" r="3.15"/><circle cx="321.6" cy="267.0" r="3.15"/><circle cx="323.8" cy="265.3" r="3.15"/><circle cx="326.1" cy="263.5" r="3.15"/><circle cx="328.4" cy="261.7" r="3.15"/><circle cx="330.7" cy="259.9" r="3.15"/><circle cx="333.0" cy="258.0" r="3.15"/><circle cx="335.3" cy="256.0" r="3.15"/><circle cx="337.6" cy="253.9" r="3.15"/><circle cx="339.9" cy="251.6" r="3.15"/><circle cx="342.2" cy="249.3" r="3.15"/><circle cx="344.5" cy="246.8" r="3.15"/><circle cx="346.8" cy="244.2" r="3.15"/><circle cx="349.1" cy="241.4" r="3.15"/><circle cx="351.4" cy="238.1" r="3.15"/><circle cx="353.7" cy="234.2" r="3.15"/><circle cx="356.0" cy="228.7" r="3.15"/><circle cx="358.3" cy="223.4" r="3.15"/><circle cx="360.6" cy="218.0" r="3.15"/><circle cx="362.9" cy="212.5" r="3.15"/><circle cx="365.2" cy="206.3" r="3.15"/><circle cx="367.5" cy="199.6" r="3.15"/><circle cx="369.8" cy="190.2" r="3.15"/><circle cx="372.1" cy="177.5" r="3.15"/><circle cx="374.4" cy="156.8" r="3.15"/><circle cx="376.7" cy="37.0" r="3.15"/><circle cx="379.0" cy="23.0" r="3.15"/><circle cx="381.3" cy="37.0" r="3.15"/><circle cx="383.6" cy="156.8" r="3.15"/><circle cx="385.9" cy="177.5" r="3.15"/><circle cx="388.2" cy="190.2" r="3.15"/><circle cx="390.5" cy="199.6" r="3.15"/><circle cx="392.8" cy="206.3" r="3.15"/><circle cx="395.1" cy="212.5" r="3.15"/><circle cx="397.4" cy="218.0" r="3.15"/><circle cx="399.7" cy="223.4" r="3.15"/><circle cx="402.0" cy="228.7" r="3.15"/><circle cx="404.3" cy="234.2" r="3.15"/><circle cx="406.6" cy="238.1" r="3.15"/><circle cx="408.9" cy="241.4" r="3.15"/><circle cx="411.2" cy="244.2" r="3.15"/><circle cx="413.5" cy="246.8" r="3.15"/><circle cx="415.8" cy="249.3" r="3.15"/><circle cx="418.1" cy="251.6" r="3.15"/><circle cx="420.4" cy="253.9" r="3.15"/><circle cx="422.7" cy="256.0" r="3.15"/><circle cx="425.0" cy="258.0" r="3.15"/><circle cx="427.3" cy="259.9" r="3.15"/><circle cx="429.6" cy="261.7" r="3.15"/><circle cx="431.9" cy="263.5" r="3.15"/><circle cx="434.2" cy="265.3" r="3.15"/><circle cx="436.4" cy="267.0" r="3.15"/><circle cx="438.7" cy="268.6" r="3.15"/><circle cx="441.0" cy="270.1" r="3.15"/><circle cx="443.3" cy="271.5" r="3.15"/><circle cx="445.6" cy="272.8" r="3.15"/><circle cx="447.9" cy="274.0" r="3.15"/><circle cx="450.2" cy="275.1" r="3.15"/><circle cx="452.5" cy="276.2" r="3.15"/><circle cx="454.8" cy="277.3" r="3.15"/><circle cx="457.1" cy="278.3" r="3.15"/><circle cx="459.4" cy="279.3" r="3.15"/><circle cx="461.7" cy="280.2" r="3.15"/><circle cx="464.0" cy="281.2" r="3.15"/><circle cx="466.3" cy="282.1" r="3.15"/><circle cx="468.6" cy="283.1" r="3.15"/><circle cx="470.9" cy="284.0" r="3.15"/><circle cx="473.2" cy="285.0" r="3.15"/><circle cx="475.5" cy="286.0" r="3.15"/><circle cx="477.8" cy="286.9" r="3.15"/><circle cx="480.1" cy="287.9" r="3.15"/><circle cx="482.4" cy="288.9" r="3.15"/><circle cx="484.7" cy="289.8" r="3.15"/><circle cx="487.0" cy="290.8" r="3.15"/><circle cx="489.3" cy="291.7" r="3.15"/><circle cx="491.6" cy="292.6" r="3.15"/><circle cx="493.9" cy="293.5" r="3.15"/><circle cx="496.2" cy="294.3" r="3.15"/><circle cx="498.5" cy="295.1" r="3.15"/><circle cx="500.8" cy="295.9" r="3.15"/><circle cx="503.1" cy="296.7" r="3.15"/><circle cx="505.4" cy="297.4" r="3.15"/><circle cx="507.7" cy="298.1" r="3.15"/><circle cx="510.0" cy="298.8" r="3.15"/><circle cx="512.3" cy="299.4" r="3.15"/><circle cx="514.6" cy="300.1" r="3.15"/><circle cx="516.9" cy="300.7" r="3.15"/><circle cx="519.2" cy="301.4" r="3.15"/><circle cx="521.5" cy="302.0" r="3.15"/><circle cx="523.8" cy="302.7" r="3.15"/><circle cx="526.1" cy="303.4" r="3.15"/><circle cx="528.4" cy="304.2" r="3.15"/><circle cx="530.7" cy="304.9" r="3.15"/><circle cx="533.0" cy="305.7" r="3.15"/><circle cx="535.3" cy="306.6" r="3.15"/><circle cx="537.6" cy="307.4" r="3.15"/><circle cx="539.9" cy="308.3" r="3.15"/><circle cx="542.2" cy="309.2" r="3.15"/><circle cx="544.5" cy="310.0" r="3.15"/><circle cx="546.8" cy="310.9" r="3.15"/><circle cx="549.1" cy="311.8" r="3.15"/><circle cx="551.4" cy="312.6" r="3.15"/><circle cx="553.6" cy="313.5" r="3.15"/><circle cx="555.9" cy="314.3" r="3.15"/><circle cx="558.2" cy="315.0" r="3.15"/><circle cx="560.5" cy="315.8" r="3.15"/><circle cx="562.8" cy="316.5" r="3.15"/><circle cx="565.1" cy="317.2" r="3.15"/><circle cx="567.4" cy="317.9" r="3.15"/><circle cx="569.7" cy="318.5" r="3.15"/><circle cx="572.0" cy="319.2" r="3.15"/><circle cx="574.3" cy="319.9" r="3.15"/><circle cx="576.6" cy="320.5" r="3.15"/><circle cx="578.9" cy="321.2" r="3.15"/><circle cx="581.2" cy="321.9" r="3.15"/><circle cx="583.5" cy="322.5" r="3.15"/><circle cx="585.8" cy="323.2" r="3.15"/><circle cx="588.1" cy="323.9" r="3.15"/><circle cx="590.4" cy="324.5" r="3.15"/><circle cx="592.7" cy="325.2" r="3.15"/><circle cx="595.0" cy="325.9" r="3.15"/><circle cx="597.3" cy="326.6" r="3.15"/><circle cx="599.6" cy="327.3" r="3.15"/><circle cx="601.9" cy="328.0" r="3.15"/><circle cx="604.2" cy="328.7" r="3.15"/><circle cx="606.5" cy="329.5" r="3.15"/><circle cx="608.8" cy="330.3" r="3.15"/><circle cx="611.1" cy="331.1" r="3.15"/><circle cx="613.4" cy="331.9" r="3.15"/><circle cx="615.7" cy="332.8" r="3.15"/><circle cx="618.0" cy="333.7" r="3.15"/><circle cx="620.3" cy="334.7" r="3.15"/><circle cx="622.6" cy="335.7" r="3.15"/><circle cx="624.9" cy="336.9" r="3.15"/><circle cx="627.2" cy="338.1" r="3.15"/><circle cx="629.5" cy="339.3" r="3.15"/><circle cx="631.8" cy="340.4" r="3.15"/><circle cx="634.1" cy="341.5" r="3.15"/><circle cx="636.4" cy="342.6" r="3.15"/><circle cx="638.7" cy="343.8" r="3.15"/><circle cx="641.0" cy="345.0" r="3.15"/><circle cx="643.3" cy="346.1" r="3.15"/><circle cx="645.6" cy="347.4" r="3.15"/><circle cx="647.9" cy="348.9" r="3.15"/><circle cx="650.2" cy="350.5" r="3.15"/><circle cx="652.5" cy="352.3" r="3.15"/><circle cx="654.8" cy="354.2" r="3.15"/><circle cx="657.1" cy="356.3" r="3.15"/><circle cx="659.4" cy="358.6" r="3.15"/><circle cx="661.7" cy="361.3" r="3.15"/><circle cx="664.0" cy="364.6" r="3.15"/><circle cx="666.2" cy="369.3" r="3.15"/><circle cx="668.5" cy="377.5" r="3.15"/><circle cx="670.8" cy="386.9" r="3.15"/><circle cx="673.1" cy="401.0" r="3.15"/></g></g><rect x="80.1" y="7.5" width="593.6999999999999" height="464.4" fill="none" stroke="#262626" stroke-width="1.25"/><path d="M80.1,7.50h6.6M673.8,7.50h-6.6M80.1,53.94h6.6M673.8,53.94h-6.6M80.1,100.38h6.6M673.8,100.38h-6.6M80.1,146.82h6.6M673.8,146.82h-6.6M80.1,193.26h6.6M673.8,193.26h-6.6M80.1,239.70h6.6M673.8,239.70h-6.6M80.1,286.14h6.6M673.8,286.14h-6.6M80.1,332.58h6.6M673.8,332.58h-6.6M80.1,379.02h6.6M673.8,379.02h-6.6M80.1,425.46h6.6M673.8,425.46h-6.6M80.1,471.90h6.6M673.8,471.90h-6.6M80.10,471.9v-6.6M80.10,7.5v6.6M376.90,471.9v-6.6M376.90,7.5v6.6M673.80,471.9v-6.6M673.80,7.5v6.6" stroke="#262626" stroke-width="1.25" fill="none"/><g font-family="Liberation Sans, sans-serif" font-size="18" fill="#000"><text x="72.6" y="15.5" text-anchor="end">20</text><text x="72.6" y="61.9" text-anchor="end">0</text><text x="72.6" y="108.4" text-anchor="end">-20</text><text x="72.6" y="154.8" text-anchor="end">-40</text><text x="72.6" y="201.3" text-anchor="end">-60</text><text x="72.6" y="247.7" text-anchor="end">-80</text><text x="72.6" y="294.1" text-anchor="end">-100</text><text x="72.6" y="340.6" text-anchor="end">-120</text><text x="72.6" y="387.0" text-anchor="end">-140</text><text x="72.6" y="433.5" text-anchor="end">-160</text><text x="72.6" y="479.9" text-anchor="end">-180</text><text x="79.5" y="498.6" text-anchor="middle">-31</text><text x="376.9" y="498.6" text-anchor="middle">0</text><text x="673.5" y="498.6" text-anchor="middle">31</text></g><text x="290.2" y="528.5" font-family="Liberation Serif, serif" font-size="28.5" letter-spacing="0.45" word-spacing="6.6" fill="#000">velocity [m/s]</text><text transform="translate(20.3,365.5) rotate(-90)" font-family="Liberation Serif, serif" font-size="29.5" letter-spacing="0.9" word-spacing="2" fill="#000">Norm. power in dB</text><rect x="300.5" y="294.5" width="157.10000000000002" height="166.7" fill="#fff" stroke="#262626" stroke-width="1.1"/><line x1="305.9" y1="310.5" x2="360.9" y2="310.5" stroke="#10f010" stroke-width="1.2"/><circle cx="333.4" cy="310.5" r="2.4" fill="#10f010"/><text x="365.5" y="315.9" font-family="Liberation Serif, serif" font-size="22.5" letter-spacing="0.3" fill="#000">Original</text><line x1="305.9" y1="337.5" x2="360.9" y2="337.5" stroke="#0a0a0a" stroke-width="1.2" stroke-dasharray="13.9 7.7"/><text x="365.5" y="342.9" font-family="Liberation Serif, serif" font-size="22.5" letter-spacing="0.3" fill="#000">Zeroing</text><line x1="305.9" y1="364.5" x2="360.9" y2="364.5" stroke="#f000f0" stroke-width="1.2" stroke-dasharray="11.2 3.7 3 3.5"/><text x="365.5" y="369.9" font-family="Liberation Serif, serif" font-size="22.5" letter-spacing="0.3" fill="#000">AR</text><line x1="305.9" y1="391.5" x2="360.9" y2="391.5" stroke="#edb120" stroke-width="1.2"/><text x="365.5" y="396.9" font-family="Liberation Serif, serif" font-size="22.5" letter-spacing="0.3" fill="#000">IMATCS</text><line x1="305.9" y1="418.5" x2="360.9" y2="418.5" stroke="#c81818" stroke-width="1.5" stroke-dasharray="10.6 4.5 2 3.5"/><circle cx="333.4" cy="418.5" r="3.4" fill="#fff" stroke="#c81818" stroke-width="1.3"/><line x1="330" y1="418.5" x2="336.8" y2="418.5" stroke="#c81818" stroke-width="1.2"/><text x="365.5" y="423.9" font-family="Liberation Serif, serif" font-size="22.5" letter-spacing="0.3" fill="#000">PM-IST</text><line x1="305.9" y1="445.5" x2="360.9" y2="445.5" stroke="#00ffff" stroke-width="1.5" stroke-dasharray="10.6 4.5 2 3.5"/><circle cx="333.4" cy="445.5" r="3.0" fill="#00ffff"/><text x="365.5" y="450.9" font-family="Liberation Serif, serif" font-size="22.5" letter-spacing="0.3" fill="#000">PM-IHT</text></svg>
</body></html>
